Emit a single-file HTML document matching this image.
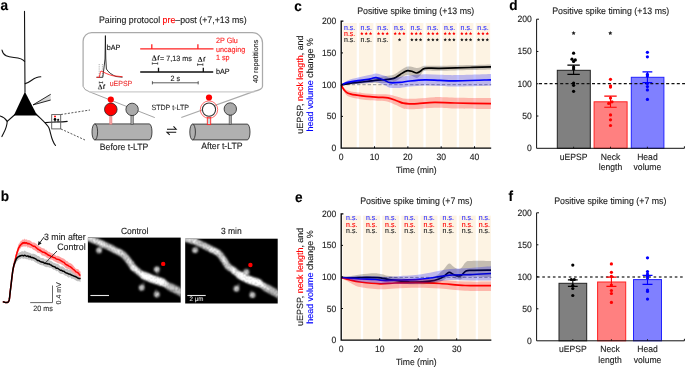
<!DOCTYPE html>
<html><head><meta charset="utf-8"><style>
html,body{margin:0;padding:0;background:#fff;}
svg{display:block;font-family:"Liberation Sans", sans-serif;will-change:transform;text-rendering:geometricPrecision;}
text{stroke:currentColor;stroke-width:0.12px;}
</style></head><body>
<svg width="685" height="368" viewBox="0 0 685 368">
<rect width="685" height="368" fill="#fff"/>
<text transform="translate(0.6,10.3) scale(1,1.06)" font-size="13.6" font-weight="bold" fill="#000" color="#000">a</text>
<text transform="translate(0.8,201.3) scale(1,1.06)" font-size="13.6" font-weight="bold" fill="#000" color="#000">b</text>
<text transform="translate(294.3,10.5) scale(1,1.06)" font-size="13.6" font-weight="bold" fill="#000" color="#000">c</text>
<text transform="translate(509.2,10.4) scale(1,1.06)" font-size="13.6" font-weight="bold" fill="#000" color="#000">d</text>
<text transform="translate(295,201.6) scale(1,1.06)" font-size="13.6" font-weight="bold" fill="#000" color="#000">e</text>
<text transform="translate(508.5,201.3) scale(1,1.06)" font-size="13.6" font-weight="bold" fill="#000" color="#000">f</text>
<g fill="none" stroke="#111" stroke-width="1.1" stroke-linecap="round">
<path d="M24.5,11.4 L25,92"/>
<path d="M2,50 C3,56 8,57 14,57.5 C19,58 23,59 24.6,61.5"/>
<path d="M25.2,83.6 C30,82.5 32,79 36,77.8 C38,77.1 39.5,76.8 40.8,76.7"/>
<path d="M15,114.5 L7.2,121.4 C5,118 2,116.5 0,116"/>
<path d="M7.2,121.4 C7,128 4,132 1.9,136.6"/>
<path d="M36,114 C42,120 47,124 49,128 C51,133 51,140 55.5,145.5"/>
<path d="M45.4,122.6 C52,121.5 60,122.5 67.2,121.4"/>
</g>
<path d="M24.9,91.8 L13.8,115.4 L37.2,115.4 Z" fill="#000"/>
<path d="M50.7,94.3 L33,104.9 L50.7,100" fill="#d8d8d8" stroke="#111" stroke-width="0.9"/>
<rect x="51.7" y="114.6" width="9" height="14.3" fill="none" stroke="#555" stroke-width="0.9"/>
<g stroke="#111" stroke-width="0.8"><line x1="55" y1="119.5" x2="55" y2="122.3"/><line x1="58" y1="119.8" x2="58" y2="122.3"/></g>
<circle cx="55" cy="119.4" r="1.35" fill="#000"/><circle cx="58.2" cy="119.8" r="1.05" fill="#111"/>
<circle cx="55" cy="116.6" r="1" fill="#f00"/>
<g stroke="#444" stroke-width="0.9" stroke-dasharray="2,1.5"><line x1="61" y1="114.5" x2="90" y2="110"/><line x1="61" y1="129" x2="85" y2="140"/></g>
<text transform="translate(99,22.8) scale(1,1.06)" font-size="8.8" fill="#222" color="#222">Pairing protocol <tspan fill="#f00" color="#f00" stroke="#f00">pre</tspan>–post (+7,+13 ms)</text>
<path d="M83.1,86.4 V41.2 A8.6,8.6 0 0 1 91.7,32.6 H252.3 A10.2,10.2 0 0 1 262.5,42.8 V86.3 Q262.5,89.8 254,91.4 L181.3,117.5" fill="none" stroke="#aaa" stroke-width="1.25"/>
<path d="M83.2,86.4 Q83.6,89.8 89.5,91.8 L154.8,117.6" fill="none" stroke="#999" stroke-width="0.9"/>
<line x1="89.3" y1="91.8" x2="254.5" y2="91.8" stroke="#ccc" stroke-width="1.3"/>
<g fill="none" stroke-linejoin="round">
<line x1="99.2" y1="64" x2="99.2" y2="77" stroke="#999" stroke-width="0.8" stroke-dasharray="1,0.8"/>
<line x1="102.4" y1="64" x2="102.4" y2="77" stroke="#999" stroke-width="0.8" stroke-dasharray="1,0.8"/>
<path d="M96.5,77.3 L102.8,77.3 L104.2,66 L105,59 L105.4,35.6 L105.8,59 L106.4,69 C108,72 112,75 116,76.5 L122.5,77.2" stroke="#111" stroke-width="0.85"/>
<path d="M96.5,77.3 L99.4,77.3 C100,74 100.5,71 101,71 C104,72.5 108,74.5 113,75.8 L122.5,76.7" stroke="#f22" stroke-width="0.9"/>
</g>
<path d="M99.3,82.5 H102.6 M99.3,81.5 V83.5 M102.6,81.5 V83.5" stroke="#222" stroke-width="0.7"/>
<path d="M98.20,89.00 L100.03,84.70 L101.86,89.00 Z" fill="none" stroke="#222" stroke-width="0.56" stroke-linejoin="miter"/><path d="M100.03,84.70 L101.86,89.00" stroke="#222" stroke-width="0.95"/><path d="M103.79,89.00 V85.90 Q104.01,84.70 105.30,84.92" fill="none" stroke="#222" stroke-width="1.03"/>
<text transform="translate(109.7,85.9) scale(1,1.06)" font-size="7" fill="#e33" color="#e33">uEPSP</text>
<text transform="translate(106.8,49.6) scale(1,1.06)" font-size="7.2" fill="#111" color="#111">bAP</text>
<g stroke-width="1.3"><path d="M140.2,48.8 H213.5 M151.8,48.8 V44.3 M197.9,48.8 V44.3" stroke="#f22" fill="none"/>
<path d="M140.2,72 H213.2 M158.5,72 V67.8 M203.3,72 V67.8" stroke="#111" fill="none"/></g>
<path d="M152.3,63.5 H157.7 M152.3,62.3 V64.7 M157.7,62.3 V64.7" stroke="#222" stroke-width="0.7"/>
<path d="M197.6,64.6 H202.9 M197.6,63.4 V65.8 M202.9,63.4 V65.8" stroke="#222" stroke-width="0.75"/>
<path d="M152.4,82.8 H198.2 M152.4,81.2 V84.4 M198.2,81.2 V84.4" stroke="#333" stroke-width="0.8"/>
<path d="M152.10,60.30 L154.10,55.60 L156.09,60.30 Z" fill="none" stroke="#222" stroke-width="0.61" stroke-linejoin="miter"/><path d="M154.10,55.60 L156.09,60.30" stroke="#222" stroke-width="1.03"/><path d="M158.21,60.30 V56.92 Q158.44,55.60 159.85,55.83" fill="none" stroke="#222" stroke-width="1.13"/>
<text transform="translate(160,60.8) scale(1,1.06)" font-size="7.2" fill="#222" color="#222">= 7,13 ms</text>
<path d="M198.10,61.50 L200.01,57.00 L201.92,61.50 Z" fill="none" stroke="#222" stroke-width="0.58" stroke-linejoin="miter"/><path d="M200.01,57.00 L201.92,61.50" stroke="#222" stroke-width="0.99"/><path d="M203.95,61.50 V58.26 Q204.17,57.00 205.52,57.23" fill="none" stroke="#222" stroke-width="1.08"/>
<text transform="translate(175.2,81) scale(1,1.06)" font-size="7.2" fill="#222" text-anchor="middle" color="#222">2 s</text>
<text transform="translate(216,43.2) scale(1,1.06)" font-size="7.2" fill="#f22" color="#f22">2P Glu</text>
<text transform="translate(216,51.8) scale(1,1.06)" font-size="7.2" fill="#f22" color="#f22">uncaging</text>
<text transform="translate(216,60.3) scale(1,1.06)" font-size="7.2" fill="#f22" color="#f22">1 sp</text>
<text transform="translate(216,74.4) scale(1,1.06)" font-size="7.2" fill="#111" color="#111">bAP</text>
<text transform="translate(257.7,61.3) rotate(-90)" font-size="7.2" fill="#222" text-anchor="middle" color="#222">40 repetitions</text>
<path d="M94.8,123.9 H149.2 A2.8,8.0 0 0 1 149.2,139.9 H94.8 Z" fill="#b0b0b0" stroke="#222" stroke-width="0.8"/><ellipse cx="94.8" cy="131.9" rx="2.8" ry="8.0" fill="#b0b0b0" stroke="#222" stroke-width="0.8"/>
<path d="M192.6,124.1 H247.2 A2.8,7.900000000000006 0 0 1 247.2,139.9 H192.6 Z" fill="#b0b0b0" stroke="#222" stroke-width="0.8"/><ellipse cx="192.6" cy="132.0" rx="2.8" ry="7.900000000000006" fill="#b0b0b0" stroke="#222" stroke-width="0.8"/>
<rect x="109.6" y="115" width="2.4" height="9.2" fill="#f4a0a0" stroke="#e07070" stroke-width="0.4"/>
<circle cx="110.8" cy="109.4" r="6.3" fill="#f00" stroke="#222" stroke-width="0.8"/>
<circle cx="110.8" cy="99.6" r="3.1" fill="#f00"/>
<rect x="130.9" y="115" width="2.4" height="9.2" fill="#aaa" stroke="#333" stroke-width="0.5"/>
<circle cx="132.1" cy="109.4" r="6.2" fill="#aaa" stroke="#222" stroke-width="0.8"/>
<rect x="207.3" y="117.2" width="3.4" height="7.4" fill="#cdd" stroke="#f22" stroke-width="0.9"/>
<circle cx="209" cy="109.6" r="8.7" fill="none" stroke="#f44" stroke-width="0.8"/>
<circle cx="209" cy="109.6" r="6.6" fill="#fff" stroke="#333" stroke-width="1.1"/>
<circle cx="209" cy="97.5" r="3.1" fill="#f00"/>
<rect x="229.1" y="115" width="2.4" height="9.2" fill="#aaa" stroke="#333" stroke-width="0.5"/>
<circle cx="230.3" cy="109" r="6.2" fill="#aaa" stroke="#222" stroke-width="0.8"/>
<text transform="translate(151.4,109.8) scale(1,1.06)" font-size="7.1" fill="#333" color="#333">STDP t-LTP</text>
<text transform="translate(99.8,149.7) scale(1,1.06)" font-size="8.7" fill="#222" color="#222">Before t-LTP</text>
<text transform="translate(201.2,149.3) scale(1,1.06)" font-size="8.7" fill="#222" color="#222">After t-LTP</text>
<path d="M167,129.2 H176.2 L173.5,126.3 M176.2,132.3 H167 L169.7,134.8" fill="none" stroke="#111" stroke-width="1.05"/>
<path d="M13.19,263.91 L13.48,262.91 L13.76,261.22 L14.03,260.70 L14.31,260.26 L14.59,259.33 L14.89,258.38 L15.20,257.16 L15.51,256.50 L15.80,255.61 L16.09,255.44 L16.39,254.49 L16.72,254.68 L17.08,253.25 L17.51,253.14 L18.00,253.19 L18.57,252.73 L19.21,252.70 L19.90,251.96 L20.63,252.11 L21.39,251.52 L22.16,250.90 L22.94,251.40 L23.70,251.55 L24.43,250.58 L25.15,250.70 L25.86,251.39 L26.58,251.78 L27.34,252.05 L28.15,252.37 L29.03,252.65 L30.00,252.63 L31.11,253.83 L32.36,253.82 L33.70,253.70 L35.08,254.18 L36.45,255.01 L37.76,256.05 L38.96,256.05 L40.00,257.30 L40.86,258.00 L41.60,258.02 L42.24,258.09 L42.81,258.07 L43.34,258.42 L43.87,258.03 L44.41,259.23 L45.00,259.44 L45.59,259.37 L46.13,259.68 L46.64,259.36 L47.17,258.98 L47.74,260.12 L48.38,259.73 L49.12,260.02 L50.00,260.84 L51.04,260.71 L52.21,261.64 L53.50,262.75 L54.85,262.89 L56.24,263.74 L57.64,263.69 L59.00,264.72 L60.30,266.44 L61.54,266.39 L62.77,266.59 L63.99,267.40 L65.19,268.64 L66.40,268.92 L67.62,268.96 L68.85,269.95 L70.10,269.56 L71.44,270.37 L72.90,271.87 L74.41,272.19 L75.91,272.61 L77.34,273.97 L78.62,274.12 L79.69,274.60 L80.50,275.07 L80.50,282.16 L79.69,281.56 L78.62,281.25 L77.34,281.27 L75.91,280.47 L74.41,279.43 L72.90,278.70 L71.44,278.71 L70.10,277.05 L68.85,277.77 L67.62,276.89 L66.40,275.81 L65.19,275.72 L63.99,274.69 L62.77,274.00 L61.54,273.88 L60.30,273.72 L59.00,272.64 L57.64,271.04 L56.24,271.21 L54.85,269.64 L53.50,269.65 L52.21,268.76 L51.04,267.85 L50.00,268.11 L49.12,267.56 L48.38,267.36 L47.74,266.99 L47.17,267.14 L46.64,267.15 L46.13,267.03 L45.59,266.93 L45.00,266.41 L44.41,266.50 L43.87,265.80 L43.34,265.71 L42.81,265.32 L42.24,265.52 L41.60,265.19 L40.86,264.94 L40.00,264.99 L38.96,264.01 L37.76,263.82 L36.45,262.69 L35.08,262.13 L33.70,261.01 L32.36,260.51 L31.11,260.80 L30.00,259.20 L29.03,260.39 L28.15,259.36 L27.34,259.27 L26.58,259.25 L25.86,259.07 L25.15,258.80 L24.43,258.43 L23.70,258.77 L22.94,259.08 L22.16,258.07 L21.39,258.37 L20.63,259.13 L19.90,258.57 L19.21,259.77 L18.57,259.68 L18.00,260.28 L17.51,261.24 L17.08,260.74 L16.72,262.20 L16.39,261.94 L16.09,262.53 L15.80,263.20 L15.51,264.44 L15.20,264.43 L14.89,265.51 L14.59,266.13 L14.31,267.27 L14.03,267.82 L13.76,268.88 L13.48,270.02 L13.19,271.37 Z" fill="#c2c2c2"/>
<path d="M13.16,264.89 L13.39,263.54 L13.60,262.70 L13.81,262.30 L14.02,260.86 L14.25,260.61 L14.50,259.58 L14.80,258.02 L15.13,256.93 L15.49,255.65 L15.87,253.85 L16.27,251.27 L16.68,251.05 L17.11,249.17 L17.55,248.18 L18.00,245.89 L18.47,244.50 L18.97,243.42 L19.49,243.59 L20.01,241.77 L20.54,241.39 L21.05,240.86 L21.54,240.81 L22.00,240.22 L22.42,239.94 L22.82,239.00 L23.20,239.70 L23.56,239.37 L23.92,239.88 L24.27,238.53 L24.63,238.82 L25.00,239.53 L25.35,239.56 L25.66,239.15 L25.95,240.08 L26.25,239.30 L26.58,239.68 L26.97,239.04 L27.43,240.47 L28.00,239.98 L28.70,240.35 L29.52,240.35 L30.42,240.71 L31.38,241.40 L32.35,242.49 L33.30,242.42 L34.19,242.47 L35.00,243.08 L35.72,243.59 L36.39,243.84 L37.02,244.50 L37.62,245.16 L38.21,245.49 L38.80,245.85 L39.39,246.33 L40.00,247.22 L40.62,246.55 L41.25,247.87 L41.88,247.76 L42.50,248.34 L43.12,248.26 L43.75,248.46 L44.38,248.57 L45.00,249.38 L45.59,250.04 L46.13,249.53 L46.64,250.20 L47.17,251.17 L47.74,250.70 L48.38,251.99 L49.12,251.77 L50.00,252.25 L51.04,253.19 L52.21,253.18 L53.50,254.02 L54.85,254.40 L56.24,256.00 L57.64,255.69 L59.00,256.37 L60.30,256.98 L61.54,257.69 L62.77,258.21 L63.99,258.71 L65.19,259.87 L66.40,260.91 L67.62,261.24 L68.85,262.81 L70.10,262.88 L71.44,263.81 L72.90,265.09 L74.41,266.97 L75.91,268.72 L77.34,269.08 L78.62,269.62 L79.69,271.30 L80.50,271.62 L80.50,279.00 L79.69,278.32 L78.62,276.40 L77.34,275.42 L75.91,275.42 L74.41,273.44 L72.90,272.74 L71.44,270.90 L70.10,269.77 L68.85,269.15 L67.62,268.81 L66.40,268.39 L65.19,267.58 L63.99,266.04 L62.77,265.28 L61.54,264.44 L60.30,263.77 L59.00,263.51 L57.64,263.09 L56.24,262.22 L54.85,261.45 L53.50,260.78 L52.21,259.86 L51.04,259.61 L50.00,259.49 L49.12,258.41 L48.38,258.83 L47.74,258.13 L47.17,257.74 L46.64,257.47 L46.13,257.14 L45.59,256.49 L45.00,256.13 L44.38,256.23 L43.75,255.83 L43.12,255.87 L42.50,255.55 L41.88,255.42 L41.25,254.47 L40.62,253.62 L40.00,253.59 L39.39,253.05 L38.80,252.77 L38.21,252.98 L37.62,252.79 L37.02,252.23 L36.39,251.32 L35.72,251.18 L35.00,250.36 L34.19,250.17 L33.30,249.66 L32.35,249.09 L31.38,247.99 L30.42,248.19 L29.52,247.63 L28.70,247.12 L28.00,247.80 L27.43,247.45 L26.97,246.00 L26.58,246.52 L26.25,246.39 L25.95,246.29 L25.66,247.06 L25.35,246.46 L25.00,246.23 L24.63,246.64 L24.27,246.16 L23.92,246.84 L23.56,246.55 L23.20,246.31 L22.82,246.43 L22.42,246.91 L22.00,246.71 L21.54,246.92 L21.05,247.48 L20.54,248.66 L20.01,248.59 L19.49,250.07 L18.97,250.39 L18.47,251.74 L18.00,252.99 L17.55,254.71 L17.11,255.86 L16.68,257.45 L16.27,258.21 L15.87,260.69 L15.49,262.33 L15.13,264.57 L14.80,265.24 L14.50,266.69 L14.25,268.03 L14.02,268.80 L13.81,268.84 L13.60,269.83 L13.39,270.50 L13.16,272.01 Z" fill="#ffa0a0"/>
<path d="M2.80,301.80 L3.27,301.86 L3.91,302.03 L4.69,302.24 L5.53,302.42 L6.39,302.51 L7.21,302.45 L7.93,302.17 L8.50,301.60 L8.92,300.76 L9.23,299.72 L9.46,298.49 L9.65,297.09 L9.81,295.53 L9.97,293.84 L10.16,292.02 L10.40,290.10 L10.69,287.93 L11.00,285.42 L11.32,282.70 L11.65,279.89 L11.98,277.10 L12.30,274.46 L12.61,272.09 L12.90,270.10 L13.16,268.55 L13.39,267.34 L13.60,266.38 L13.81,265.58 L14.02,264.84 L14.25,264.06 L14.50,263.14 L14.80,262.00 L15.13,260.60 L15.49,259.02 L15.87,257.34 L16.27,255.20 L16.68,254.06 L17.11,252.38 L17.55,251.21 L18.00,249.79 L18.47,248.24 L18.97,247.38 L19.49,246.81 L20.01,245.50 L20.54,245.26 L21.05,244.44 L21.54,243.90 L22.00,243.40 L22.42,243.68 L22.82,242.85 L23.20,242.78 L23.56,242.80 L23.92,243.18 L24.27,242.44 L24.63,242.77 L25.00,242.84 L25.35,243.13 L25.66,243.08 L25.95,243.14 L26.25,242.67 L26.58,242.88 L26.97,242.96 L27.43,243.61 L28.00,243.91 L28.70,243.49 L29.52,243.89 L30.42,244.37 L31.38,244.85 L32.35,245.57 L33.30,246.15 L34.19,246.34 L35.00,246.55 L35.72,247.35 L36.39,247.74 L37.02,248.34 L37.62,249.11 L38.21,249.29 L38.80,249.54 L39.39,250.02 L40.00,250.46 L40.62,250.26 L41.25,251.37 L41.88,251.59 L42.50,251.99 L43.12,252.25 L43.75,252.21 L44.38,252.55 L45.00,252.64 L45.59,253.49 L46.13,253.35 L46.64,253.73 L47.17,254.24 L47.74,254.59 L48.38,255.17 L49.12,255.34 L50.00,255.75 L51.04,256.36 L52.21,256.79 L53.50,257.51 L54.85,257.72 L56.24,259.01 L57.64,259.35 L59.00,259.53 L60.30,260.28 L61.54,261.06 L62.77,261.81 L63.99,262.36 L65.19,263.81 L66.40,264.78 L67.62,265.17 L68.85,266.07 L70.10,266.63 L71.44,267.65 L72.90,269.00 L74.41,270.13 L75.91,271.85 L77.34,272.41 L78.62,273.34 L79.69,275.05 L80.50,275.33" fill="none" stroke="#f00" stroke-width="1.5" stroke-linejoin="round"/>
<path d="M2.80,301.80 L3.27,301.86 L3.91,302.03 L4.69,302.24 L5.53,302.42 L6.39,302.51 L7.21,302.45 L7.93,302.17 L8.50,301.60 L8.92,300.76 L9.23,299.72 L9.46,298.49 L9.65,297.09 L9.81,295.53 L9.97,293.84 L10.16,292.02 L10.40,290.10 L10.69,287.93 L10.99,285.43 L11.30,282.72 L11.62,279.91 L11.95,277.13 L12.28,274.49 L12.59,272.11 L12.90,270.10 L13.19,268.46 L13.48,267.07 L13.76,265.89 L14.03,264.88 L14.31,263.98 L14.59,263.17 L14.89,262.39 L15.20,261.60 L15.51,260.83 L15.80,260.15 L16.09,259.37 L16.39,258.65 L16.72,258.60 L17.08,257.62 L17.51,257.62 L18.00,257.08 L18.57,256.45 L19.21,256.54 L19.90,255.86 L20.63,255.99 L21.39,255.48 L22.16,255.37 L22.94,255.58 L23.70,255.89 L24.43,255.25 L25.15,255.38 L25.86,255.81 L26.58,256.22 L27.34,256.05 L28.15,256.11 L29.03,256.90 L30.00,256.39 L31.11,257.54 L32.36,257.56 L33.70,258.04 L35.08,258.66 L36.45,259.48 L37.76,260.56 L38.96,260.55 L40.00,261.37 L40.86,261.80 L41.60,261.88 L42.24,262.31 L42.81,262.11 L43.34,262.32 L43.87,262.65 L44.41,263.27 L45.00,263.23 L45.59,263.29 L46.13,263.63 L46.64,263.58 L47.17,263.50 L47.74,264.04 L48.38,264.10 L49.12,263.92 L50.00,264.57 L51.04,265.01 L52.21,265.94 L53.50,266.51 L54.85,266.87 L56.24,268.27 L57.64,268.26 L59.00,269.27 L60.30,270.23 L61.54,270.28 L62.77,271.14 L63.99,271.28 L65.19,272.36 L66.40,272.96 L67.62,273.30 L68.85,274.10 L70.10,274.13 L71.44,275.06 L72.90,275.60 L74.41,276.24 L75.91,276.78 L77.34,277.74 L78.62,278.39 L79.69,278.43 L80.50,278.95" fill="none" stroke="#000" stroke-width="1.5" stroke-linejoin="round"/>
<text transform="translate(44,239.5) scale(1,1.06)" font-size="8.8" fill="#222" color="#222">3 min after</text>
<text transform="translate(85.6,249.6) scale(1,1.06)" font-size="8.8" fill="#222" text-anchor="end" color="#222">Control</text>
<path d="M44.2,236.8 L39.5,243.2" stroke="#111" stroke-width="0.9"/><path d="M37.8,245.4 L38.6,240.9 L41.6,243.4 Z" fill="#111"/>
<path d="M57,251 L44,264.3" stroke="#111" stroke-width="0.8"/>
<path d="M30.2,302.6 H52.5 V285.5" fill="none" stroke="#666" stroke-width="1"/>
<text transform="translate(43,310.8) scale(1,1.06)" font-size="7.2" fill="#333" text-anchor="middle" color="#333">20 ms</text>
<text transform="translate(61.3,293.3) rotate(-90)" font-size="7" fill="#333" text-anchor="middle" color="#333">0.4 mV</text>
<rect x="87.9" y="237.6" width="92.8" height="65" fill="#000"/><svg x="87.9" y="237.6" width="92.8" height="65" viewBox="0 0 92.8 65" overflow="hidden"><defs><filter id="bl1" x="-20%" y="-20%" width="140%" height="140%"><feGaussianBlur in="SourceGraphic" stdDeviation="0.9" result="b"/><feTurbulence type="fractalNoise" baseFrequency="0.5" numOctaves="2" seed="1" result="n"/><feColorMatrix in="n" type="matrix" values="1 0 0 0 0  1 0 0 0 0  1 0 0 0 0  0 0 0 0 1" result="ng"/><feComposite in="b" in2="ng" operator="arithmetic" k1="1.1" k2="0.5" k3="0" k4="0" result="m"/><feGaussianBlur in="m" stdDeviation="0.3"/></filter></defs><g filter="url(#bl1)"><path d="M-3.00,-2.50 C-2.17,-1.95 0.18,-0.20 2.00,0.80 C3.82,1.80 5.28,2.33 7.90,3.50 C10.52,4.67 14.45,6.27 17.70,7.80 C20.95,9.33 24.68,11.33 27.40,12.70 C30.12,14.07 32.00,14.55 34.00,16.00 C36.00,17.45 37.60,19.23 39.40,21.40 C41.20,23.57 43.20,27.07 44.80,29.00 C46.40,30.93 47.13,31.52 49.00,33.00 C50.87,34.48 53.48,36.53 56.00,37.90 C58.52,39.27 61.05,40.08 64.10,41.20 C67.15,42.32 71.25,43.23 74.30,44.60 C77.35,45.97 79.23,47.70 82.40,49.40 C85.57,51.10 91.03,53.62 93.30,54.80 C95.57,55.98 95.55,56.22 96.00,56.50" fill="none" stroke="#808080" stroke-width="6" stroke-linecap="round"/><path d="M-3.00,-2.50 C-2.17,-1.95 0.18,-0.20 2.00,0.80 C3.82,1.80 5.28,2.33 7.90,3.50 C10.52,4.67 14.45,6.27 17.70,7.80 C20.95,9.33 24.68,11.33 27.40,12.70 C30.12,14.07 32.00,14.55 34.00,16.00 C36.00,17.45 37.60,19.23 39.40,21.40 C41.20,23.57 43.20,27.07 44.80,29.00 C46.40,30.93 47.13,31.52 49.00,33.00 C50.87,34.48 53.48,36.53 56.00,37.90 C58.52,39.27 61.05,40.08 64.10,41.20 C67.15,42.32 71.25,43.23 74.30,44.60 C77.35,45.97 79.23,47.70 82.40,49.40 C85.57,51.10 91.03,53.62 93.30,54.80 C95.57,55.98 95.55,56.22 96.00,56.50" fill="none" stroke="#d8d8d8" stroke-width="4" stroke-linecap="round"/><path d="M56.00,37.90 C57.35,38.45 61.05,40.08 64.10,41.20 C67.15,42.32 72.60,44.03 74.30,44.60" fill="none" stroke="#f8f8f8" stroke-width="7" stroke-linecap="round"/><path d="M82.40,49.40 C84.22,50.30 91.03,53.62 93.30,54.80 C95.57,55.98 95.55,56.22 96.00,56.50" fill="none" stroke="#999" stroke-width="7.5" stroke-linecap="round" opacity="0.7"/><circle cx="1.37" cy="-0.44" r="1.81" fill="rgb(179,179,179)" opacity="0.49"/><circle cx="0.21" cy="1.56" r="1.74" fill="rgb(211,211,211)" opacity="0.79"/><circle cx="3.09" cy="-0.10" r="1.59" fill="rgb(254,254,254)" opacity="0.63"/><circle cx="2.90" cy="2.48" r="0.92" fill="rgb(225,225,225)" opacity="0.63"/><circle cx="2.51" cy="1.49" r="0.94" fill="rgb(248,248,248)" opacity="0.84"/><circle cx="4.20" cy="1.11" r="1.73" fill="rgb(204,204,204)" opacity="0.56"/><circle cx="4.20" cy="1.86" r="1.61" fill="rgb(197,197,197)" opacity="0.75"/><circle cx="5.05" cy="3.00" r="1.49" fill="rgb(246,246,246)" opacity="0.82"/><circle cx="6.59" cy="3.24" r="1.70" fill="rgb(226,226,226)" opacity="0.43"/><circle cx="7.92" cy="2.74" r="1.42" fill="rgb(174,174,174)" opacity="0.61"/><circle cx="8.62" cy="2.86" r="1.81" fill="rgb(233,233,233)" opacity="0.53"/><circle cx="9.65" cy="3.05" r="1.31" fill="rgb(210,210,210)" opacity="0.68"/><circle cx="10.67" cy="4.33" r="1.71" fill="rgb(200,200,200)" opacity="0.49"/><circle cx="11.42" cy="4.08" r="1.35" fill="rgb(249,249,249)" opacity="0.83"/><circle cx="13.78" cy="5.00" r="1.89" fill="rgb(236,236,236)" opacity="0.63"/><circle cx="14.95" cy="5.30" r="1.46" fill="rgb(225,225,225)" opacity="0.46"/><circle cx="14.10" cy="7.14" r="1.22" fill="rgb(247,247,247)" opacity="0.67"/><circle cx="15.44" cy="8.08" r="1.28" fill="rgb(219,219,219)" opacity="0.86"/><circle cx="18.19" cy="8.65" r="1.50" fill="rgb(210,210,210)" opacity="0.70"/><circle cx="19.16" cy="7.99" r="1.78" fill="rgb(186,186,186)" opacity="0.42"/><circle cx="20.28" cy="9.74" r="0.95" fill="rgb(224,224,224)" opacity="0.65"/><circle cx="22.09" cy="10.10" r="1.66" fill="rgb(238,238,238)" opacity="0.53"/><circle cx="23.69" cy="8.96" r="1.57" fill="rgb(212,212,212)" opacity="0.89"/><circle cx="23.29" cy="11.85" r="1.60" fill="rgb(186,186,186)" opacity="0.57"/><circle cx="24.56" cy="10.66" r="1.62" fill="rgb(207,207,207)" opacity="0.72"/><circle cx="27.67" cy="12.56" r="1.65" fill="rgb(252,252,252)" opacity="0.78"/><circle cx="27.28" cy="12.33" r="1.27" fill="rgb(232,232,232)" opacity="0.68"/><circle cx="27.38" cy="12.66" r="1.48" fill="rgb(237,237,237)" opacity="0.73"/><circle cx="28.57" cy="13.90" r="1.42" fill="rgb(207,207,207)" opacity="0.59"/><circle cx="31.22" cy="13.93" r="1.72" fill="rgb(182,182,182)" opacity="0.42"/><circle cx="31.68" cy="13.36" r="1.69" fill="rgb(229,229,229)" opacity="0.80"/><circle cx="30.57" cy="15.92" r="0.91" fill="rgb(178,178,178)" opacity="0.82"/><circle cx="31.78" cy="15.01" r="1.81" fill="rgb(246,246,246)" opacity="0.80"/><circle cx="33.44" cy="14.76" r="1.35" fill="rgb(188,188,188)" opacity="0.67"/><circle cx="35.23" cy="16.28" r="1.12" fill="rgb(230,230,230)" opacity="0.66"/><circle cx="34.78" cy="17.90" r="1.22" fill="rgb(203,203,203)" opacity="0.41"/><circle cx="36.04" cy="17.04" r="1.64" fill="rgb(242,242,242)" opacity="0.40"/><circle cx="37.13" cy="18.71" r="1.44" fill="rgb(241,241,241)" opacity="0.56"/><circle cx="37.11" cy="18.23" r="1.13" fill="rgb(178,178,178)" opacity="0.76"/><circle cx="36.17" cy="17.75" r="1.71" fill="rgb(189,189,189)" opacity="0.72"/><circle cx="38.28" cy="18.81" r="1.73" fill="rgb(181,181,181)" opacity="0.71"/><circle cx="38.76" cy="21.86" r="1.28" fill="rgb(211,211,211)" opacity="0.68"/><circle cx="39.16" cy="21.74" r="0.96" fill="rgb(194,194,194)" opacity="0.79"/><circle cx="39.41" cy="22.22" r="1.72" fill="rgb(179,179,179)" opacity="0.59"/><circle cx="40.83" cy="23.75" r="1.83" fill="rgb(248,248,248)" opacity="0.51"/><circle cx="42.61" cy="23.48" r="1.17" fill="rgb(203,203,203)" opacity="0.64"/><circle cx="42.06" cy="23.99" r="1.29" fill="rgb(176,176,176)" opacity="0.51"/><circle cx="44.15" cy="25.62" r="1.85" fill="rgb(211,211,211)" opacity="0.75"/><circle cx="43.80" cy="26.56" r="1.78" fill="rgb(189,189,189)" opacity="0.68"/><circle cx="45.18" cy="28.09" r="1.24" fill="rgb(174,174,174)" opacity="0.86"/><circle cx="45.26" cy="29.00" r="1.36" fill="rgb(215,215,215)" opacity="0.54"/><circle cx="44.30" cy="30.77" r="1.69" fill="rgb(255,255,255)" opacity="0.81"/><circle cx="45.25" cy="29.65" r="1.62" fill="rgb(255,255,255)" opacity="0.75"/><circle cx="46.91" cy="29.67" r="1.32" fill="rgb(255,255,255)" opacity="0.89"/><circle cx="45.50" cy="30.08" r="1.73" fill="rgb(255,255,255)" opacity="0.51"/><circle cx="45.91" cy="31.45" r="1.00" fill="rgb(255,255,255)" opacity="0.41"/><circle cx="46.96" cy="31.09" r="1.61" fill="rgb(255,255,255)" opacity="0.42"/><circle cx="48.44" cy="32.07" r="1.40" fill="rgb(255,255,255)" opacity="0.73"/><circle cx="49.78" cy="32.24" r="1.37" fill="rgb(255,255,255)" opacity="0.73"/><circle cx="49.59" cy="32.45" r="0.90" fill="rgb(255,255,255)" opacity="0.46"/><circle cx="50.89" cy="34.21" r="1.06" fill="rgb(255,255,255)" opacity="0.69"/><circle cx="50.03" cy="34.24" r="0.97" fill="rgb(255,255,255)" opacity="0.42"/><circle cx="50.86" cy="36.32" r="0.99" fill="rgb(255,255,255)" opacity="0.57"/><circle cx="52.38" cy="35.47" r="1.17" fill="rgb(255,255,255)" opacity="0.86"/><circle cx="52.76" cy="36.91" r="1.34" fill="rgb(255,255,255)" opacity="0.71"/><circle cx="56.29" cy="38.25" r="1.51" fill="rgb(255,255,255)" opacity="0.68"/><circle cx="55.80" cy="37.15" r="1.76" fill="rgb(255,255,255)" opacity="0.81"/><circle cx="55.74" cy="37.91" r="1.48" fill="rgb(255,255,255)" opacity="0.51"/><circle cx="59.22" cy="39.91" r="1.22" fill="rgb(255,255,255)" opacity="0.76"/><circle cx="59.09" cy="38.84" r="1.63" fill="rgb(255,255,255)" opacity="0.61"/><circle cx="59.85" cy="40.57" r="1.42" fill="rgb(255,255,255)" opacity="0.47"/><circle cx="61.58" cy="40.80" r="1.62" fill="rgb(255,255,255)" opacity="0.47"/><circle cx="62.68" cy="40.46" r="0.95" fill="rgb(255,255,255)" opacity="0.85"/><circle cx="61.91" cy="41.99" r="1.49" fill="rgb(255,255,255)" opacity="0.69"/><circle cx="63.28" cy="41.24" r="1.01" fill="rgb(255,255,255)" opacity="0.59"/><circle cx="65.62" cy="40.85" r="1.85" fill="rgb(255,255,255)" opacity="0.84"/><circle cx="65.46" cy="40.70" r="0.95" fill="rgb(255,255,255)" opacity="0.70"/><circle cx="66.60" cy="43.53" r="0.90" fill="rgb(255,255,255)" opacity="0.62"/><circle cx="69.30" cy="42.22" r="1.37" fill="rgb(255,255,255)" opacity="0.86"/><circle cx="71.15" cy="43.83" r="1.02" fill="rgb(255,255,255)" opacity="0.65"/><circle cx="70.51" cy="43.49" r="1.30" fill="rgb(255,255,255)" opacity="0.44"/><circle cx="73.36" cy="43.94" r="1.18" fill="rgb(255,255,255)" opacity="0.61"/><circle cx="73.52" cy="43.24" r="1.79" fill="rgb(255,255,255)" opacity="0.64"/><circle cx="74.82" cy="45.43" r="0.95" fill="rgb(255,255,255)" opacity="0.64"/><circle cx="76.43" cy="45.80" r="1.00" fill="rgb(255,255,255)" opacity="0.81"/><circle cx="77.63" cy="46.76" r="1.15" fill="rgb(255,255,255)" opacity="0.87"/><circle cx="78.18" cy="45.70" r="1.59" fill="rgb(255,255,255)" opacity="0.41"/><circle cx="78.40" cy="48.58" r="1.45" fill="rgb(255,255,255)" opacity="0.77"/><circle cx="79.97" cy="49.08" r="0.95" fill="rgb(191,191,191)" opacity="0.52"/><circle cx="80.12" cy="49.75" r="1.11" fill="rgb(220,220,220)" opacity="0.56"/><circle cx="82.97" cy="49.68" r="1.29" fill="rgb(253,253,253)" opacity="0.58"/><circle cx="84.05" cy="50.53" r="1.84" fill="rgb(209,209,209)" opacity="0.67"/><circle cx="85.62" cy="50.16" r="1.57" fill="rgb(221,221,221)" opacity="0.56"/><circle cx="86.93" cy="51.28" r="0.95" fill="rgb(188,188,188)" opacity="0.81"/><circle cx="88.76" cy="51.35" r="1.39" fill="rgb(201,201,201)" opacity="0.77"/><circle cx="89.03" cy="53.54" r="1.49" fill="rgb(192,192,192)" opacity="0.60"/><circle cx="92.42" cy="54.73" r="0.96" fill="rgb(227,227,227)" opacity="0.70"/><circle cx="93.23" cy="54.52" r="1.44" fill="rgb(197,197,197)" opacity="0.44"/><line x1="11.1" y1="12.7" x2="13" y2="9" stroke="#555" stroke-width="1.4"/><circle cx="11.1" cy="12.7" r="2.8" fill="#999"/><circle cx="11.1" cy="12.7" r="1.6" fill="#ddd"/><line x1="68.9" y1="31.7" x2="70" y2="37" stroke="#555" stroke-width="1.4"/><circle cx="68.9" cy="31.7" r="2.8" fill="#999"/><circle cx="68.9" cy="31.7" r="1.6" fill="#ddd"/><line x1="53.7" y1="50.1" x2="56" y2="45" stroke="#555" stroke-width="1.4"/><circle cx="53.7" cy="50.1" r="2.8" fill="#999"/><circle cx="53.7" cy="50.1" r="1.6" fill="#ddd"/><line x1="68.9" y1="56.8" x2="68" y2="52" stroke="#555" stroke-width="1.4"/><circle cx="68.9" cy="56.8" r="2.8" fill="#999"/><circle cx="68.9" cy="56.8" r="1.6" fill="#ddd"/></g></svg><circle cx="163.2" cy="263.9" r="2.2" fill="#f00"/><line x1="90.4" y1="295.5" x2="109" y2="295.5" stroke="#e8e8e8" stroke-width="1.1"/><text transform="translate(134.6,234) scale(1,1.06)" font-size="8.5" fill="#222" text-anchor="middle" color="#222">Control</text>
<rect x="185.2" y="238.7" width="92.5" height="64.8" fill="#000"/><svg x="185.2" y="238.7" width="92.5" height="64.8" viewBox="0 0 92.5 64.8" overflow="hidden"><defs><filter id="bl2" x="-20%" y="-20%" width="140%" height="140%"><feGaussianBlur in="SourceGraphic" stdDeviation="0.9" result="b"/><feTurbulence type="fractalNoise" baseFrequency="0.5" numOctaves="2" seed="2" result="n"/><feColorMatrix in="n" type="matrix" values="1 0 0 0 0  1 0 0 0 0  1 0 0 0 0  0 0 0 0 1" result="ng"/><feComposite in="b" in2="ng" operator="arithmetic" k1="1.1" k2="0.5" k3="0" k4="0" result="m"/><feGaussianBlur in="m" stdDeviation="0.3"/></filter></defs><g filter="url(#bl2)"><path d="M-3.00,-2.50 C-2.17,-1.98 -0.13,-0.28 2.00,0.60 C4.13,1.48 6.88,1.70 9.80,2.80 C12.72,3.90 16.25,5.65 19.50,7.20 C22.75,8.75 26.93,10.83 29.30,12.10 C31.67,13.37 32.25,13.45 33.70,14.80 C35.15,16.15 36.47,18.03 38.00,20.20 C39.53,22.37 41.20,25.97 42.90,27.80 C44.60,29.63 46.18,29.72 48.20,31.20 C50.22,32.68 52.50,35.12 55.00,36.70 C57.50,38.28 60.15,39.47 63.20,40.70 C66.25,41.93 70.37,42.73 73.30,44.10 C76.23,45.47 77.85,47.20 80.80,48.90 C83.75,50.60 88.63,53.03 91.00,54.30 C93.37,55.57 94.33,56.13 95.00,56.50" fill="none" stroke="#808080" stroke-width="6" stroke-linecap="round"/><path d="M-3.00,-2.50 C-2.17,-1.98 -0.13,-0.28 2.00,0.60 C4.13,1.48 6.88,1.70 9.80,2.80 C12.72,3.90 16.25,5.65 19.50,7.20 C22.75,8.75 26.93,10.83 29.30,12.10 C31.67,13.37 32.25,13.45 33.70,14.80 C35.15,16.15 36.47,18.03 38.00,20.20 C39.53,22.37 41.20,25.97 42.90,27.80 C44.60,29.63 46.18,29.72 48.20,31.20 C50.22,32.68 52.50,35.12 55.00,36.70 C57.50,38.28 60.15,39.47 63.20,40.70 C66.25,41.93 70.37,42.73 73.30,44.10 C76.23,45.47 77.85,47.20 80.80,48.90 C83.75,50.60 88.63,53.03 91.00,54.30 C93.37,55.57 94.33,56.13 95.00,56.50" fill="none" stroke="#d8d8d8" stroke-width="4" stroke-linecap="round"/><path d="M55.00,36.70 C56.37,37.37 60.15,39.47 63.20,40.70 C66.25,41.93 71.62,43.53 73.30,44.10" fill="none" stroke="#f8f8f8" stroke-width="7" stroke-linecap="round"/><path d="M80.80,48.90 C82.50,49.80 88.63,53.03 91.00,54.30 C93.37,55.57 94.33,56.13 95.00,56.50" fill="none" stroke="#999" stroke-width="7.5" stroke-linecap="round" opacity="0.7"/><circle cx="0.79" cy="0.65" r="0.93" fill="rgb(179,179,179)" opacity="0.84"/><circle cx="2.41" cy="-0.67" r="1.24" fill="rgb(214,214,214)" opacity="0.55"/><circle cx="1.40" cy="0.80" r="1.47" fill="rgb(184,184,184)" opacity="0.47"/><circle cx="2.52" cy="0.29" r="1.18" fill="rgb(228,228,228)" opacity="0.89"/><circle cx="3.49" cy="2.19" r="1.16" fill="rgb(180,180,180)" opacity="0.69"/><circle cx="4.95" cy="1.19" r="1.70" fill="rgb(223,223,223)" opacity="0.87"/><circle cx="4.75" cy="0.98" r="1.33" fill="rgb(223,223,223)" opacity="0.65"/><circle cx="7.71" cy="0.89" r="1.68" fill="rgb(214,214,214)" opacity="0.41"/><circle cx="6.66" cy="1.85" r="1.62" fill="rgb(193,193,193)" opacity="0.90"/><circle cx="9.63" cy="1.41" r="1.84" fill="rgb(246,246,246)" opacity="0.76"/><circle cx="8.69" cy="2.62" r="1.43" fill="rgb(237,237,237)" opacity="0.86"/><circle cx="10.48" cy="2.76" r="1.26" fill="rgb(241,241,241)" opacity="0.72"/><circle cx="12.93" cy="4.08" r="1.32" fill="rgb(236,236,236)" opacity="0.65"/><circle cx="12.90" cy="3.55" r="1.75" fill="rgb(179,179,179)" opacity="0.81"/><circle cx="14.75" cy="4.74" r="1.67" fill="rgb(194,194,194)" opacity="0.48"/><circle cx="16.85" cy="5.42" r="1.31" fill="rgb(228,228,228)" opacity="0.71"/><circle cx="16.55" cy="5.74" r="1.66" fill="rgb(181,181,181)" opacity="0.58"/><circle cx="17.15" cy="5.64" r="1.54" fill="rgb(175,175,175)" opacity="0.72"/><circle cx="18.97" cy="6.50" r="1.05" fill="rgb(182,182,182)" opacity="0.63"/><circle cx="20.30" cy="6.71" r="1.58" fill="rgb(211,211,211)" opacity="0.81"/><circle cx="22.19" cy="7.57" r="1.33" fill="rgb(219,219,219)" opacity="0.58"/><circle cx="23.96" cy="9.47" r="1.82" fill="rgb(208,208,208)" opacity="0.75"/><circle cx="24.61" cy="9.13" r="1.29" fill="rgb(192,192,192)" opacity="0.64"/><circle cx="26.01" cy="10.68" r="1.59" fill="rgb(244,244,244)" opacity="0.89"/><circle cx="26.26" cy="12.37" r="1.46" fill="rgb(254,254,254)" opacity="0.88"/><circle cx="28.32" cy="12.83" r="0.94" fill="rgb(174,174,174)" opacity="0.65"/><circle cx="30.57" cy="11.41" r="1.46" fill="rgb(220,220,220)" opacity="0.55"/><circle cx="29.54" cy="11.43" r="1.85" fill="rgb(247,247,247)" opacity="0.79"/><circle cx="30.22" cy="12.59" r="1.14" fill="rgb(180,180,180)" opacity="0.62"/><circle cx="30.54" cy="14.07" r="1.50" fill="rgb(241,241,241)" opacity="0.82"/><circle cx="32.60" cy="12.64" r="1.47" fill="rgb(209,209,209)" opacity="0.61"/><circle cx="33.02" cy="12.38" r="1.37" fill="rgb(230,230,230)" opacity="0.69"/><circle cx="33.11" cy="13.96" r="1.63" fill="rgb(207,207,207)" opacity="0.77"/><circle cx="34.15" cy="14.29" r="0.91" fill="rgb(226,226,226)" opacity="0.43"/><circle cx="34.15" cy="15.59" r="1.30" fill="rgb(174,174,174)" opacity="0.78"/><circle cx="33.41" cy="15.60" r="0.95" fill="rgb(253,253,253)" opacity="0.65"/><circle cx="34.83" cy="17.05" r="1.08" fill="rgb(182,182,182)" opacity="0.79"/><circle cx="35.89" cy="15.59" r="1.00" fill="rgb(175,175,175)" opacity="0.59"/><circle cx="35.72" cy="17.84" r="1.75" fill="rgb(239,239,239)" opacity="0.59"/><circle cx="35.74" cy="18.48" r="1.66" fill="rgb(196,196,196)" opacity="0.85"/><circle cx="35.68" cy="17.85" r="1.08" fill="rgb(170,170,170)" opacity="0.72"/><circle cx="36.58" cy="19.87" r="1.51" fill="rgb(238,238,238)" opacity="0.80"/><circle cx="36.75" cy="19.98" r="1.40" fill="rgb(170,170,170)" opacity="0.70"/><circle cx="37.66" cy="21.59" r="1.38" fill="rgb(245,245,245)" opacity="0.85"/><circle cx="39.13" cy="20.81" r="1.70" fill="rgb(242,242,242)" opacity="0.55"/><circle cx="38.61" cy="22.69" r="1.13" fill="rgb(177,177,177)" opacity="0.80"/><circle cx="39.53" cy="24.61" r="1.36" fill="rgb(251,251,251)" opacity="0.46"/><circle cx="42.34" cy="25.51" r="1.61" fill="rgb(171,171,171)" opacity="0.81"/><circle cx="41.87" cy="25.40" r="1.66" fill="rgb(197,197,197)" opacity="0.45"/><circle cx="43.45" cy="28.03" r="1.28" fill="rgb(222,222,222)" opacity="0.85"/><circle cx="41.80" cy="28.52" r="1.61" fill="rgb(193,193,193)" opacity="0.63"/><circle cx="44.08" cy="27.04" r="1.55" fill="rgb(213,213,213)" opacity="0.82"/><circle cx="44.90" cy="28.33" r="1.82" fill="rgb(170,170,170)" opacity="0.88"/><circle cx="44.67" cy="29.34" r="1.79" fill="rgb(207,207,207)" opacity="0.73"/><circle cx="44.96" cy="30.33" r="1.18" fill="rgb(255,255,255)" opacity="0.43"/><circle cx="46.06" cy="30.15" r="1.04" fill="rgb(255,255,255)" opacity="0.79"/><circle cx="48.03" cy="29.57" r="1.18" fill="rgb(255,255,255)" opacity="0.84"/><circle cx="46.62" cy="29.89" r="1.01" fill="rgb(255,255,255)" opacity="0.84"/><circle cx="47.28" cy="30.79" r="1.65" fill="rgb(255,255,255)" opacity="0.80"/><circle cx="48.53" cy="32.67" r="1.18" fill="rgb(255,255,255)" opacity="0.46"/><circle cx="48.37" cy="33.54" r="1.72" fill="rgb(255,255,255)" opacity="0.84"/><circle cx="51.61" cy="33.74" r="0.93" fill="rgb(255,255,255)" opacity="0.64"/><circle cx="51.34" cy="35.23" r="1.34" fill="rgb(255,255,255)" opacity="0.46"/><circle cx="51.65" cy="35.14" r="1.69" fill="rgb(255,255,255)" opacity="0.80"/><circle cx="53.27" cy="36.24" r="1.30" fill="rgb(255,255,255)" opacity="0.51"/><circle cx="54.70" cy="36.24" r="1.90" fill="rgb(255,255,255)" opacity="0.50"/><circle cx="54.91" cy="36.34" r="1.24" fill="rgb(255,255,255)" opacity="0.87"/><circle cx="56.45" cy="36.26" r="1.87" fill="rgb(255,255,255)" opacity="0.58"/><circle cx="56.04" cy="36.79" r="1.35" fill="rgb(255,255,255)" opacity="0.89"/><circle cx="59.16" cy="38.82" r="1.30" fill="rgb(255,255,255)" opacity="0.87"/><circle cx="58.63" cy="38.88" r="1.67" fill="rgb(255,255,255)" opacity="0.51"/><circle cx="60.49" cy="40.55" r="0.90" fill="rgb(255,255,255)" opacity="0.41"/><circle cx="60.67" cy="39.78" r="1.29" fill="rgb(255,255,255)" opacity="0.83"/><circle cx="61.14" cy="39.59" r="1.52" fill="rgb(255,255,255)" opacity="0.42"/><circle cx="62.94" cy="40.37" r="1.01" fill="rgb(255,255,255)" opacity="0.69"/><circle cx="63.73" cy="41.05" r="1.31" fill="rgb(255,255,255)" opacity="0.75"/><circle cx="66.04" cy="40.88" r="1.52" fill="rgb(255,255,255)" opacity="0.69"/><circle cx="67.61" cy="42.33" r="1.82" fill="rgb(255,255,255)" opacity="0.45"/><circle cx="67.13" cy="42.71" r="1.05" fill="rgb(255,255,255)" opacity="0.71"/><circle cx="70.39" cy="42.52" r="1.80" fill="rgb(255,255,255)" opacity="0.75"/><circle cx="70.56" cy="44.20" r="1.63" fill="rgb(255,255,255)" opacity="0.67"/><circle cx="72.42" cy="42.30" r="1.43" fill="rgb(255,255,255)" opacity="0.80"/><circle cx="74.51" cy="43.70" r="0.91" fill="rgb(255,255,255)" opacity="0.46"/><circle cx="74.98" cy="44.71" r="1.13" fill="rgb(255,255,255)" opacity="0.53"/><circle cx="74.66" cy="45.16" r="1.40" fill="rgb(255,255,255)" opacity="0.76"/><circle cx="77.23" cy="45.41" r="1.22" fill="rgb(255,255,255)" opacity="0.81"/><circle cx="78.36" cy="46.74" r="1.40" fill="rgb(255,255,255)" opacity="0.89"/><circle cx="76.58" cy="47.93" r="1.30" fill="rgb(255,255,255)" opacity="0.57"/><circle cx="78.21" cy="46.24" r="1.52" fill="rgb(255,255,255)" opacity="0.88"/><circle cx="79.60" cy="48.16" r="1.64" fill="rgb(255,255,255)" opacity="0.46"/><circle cx="81.54" cy="50.20" r="1.37" fill="rgb(228,228,228)" opacity="0.63"/><circle cx="82.95" cy="49.40" r="1.56" fill="rgb(243,243,243)" opacity="0.53"/><circle cx="84.46" cy="49.26" r="1.32" fill="rgb(218,218,218)" opacity="0.84"/><circle cx="84.63" cy="52.16" r="1.76" fill="rgb(178,178,178)" opacity="0.63"/><circle cx="85.71" cy="50.60" r="0.90" fill="rgb(190,190,190)" opacity="0.85"/><circle cx="86.49" cy="51.14" r="0.90" fill="rgb(225,225,225)" opacity="0.68"/><circle cx="88.02" cy="53.13" r="1.89" fill="rgb(182,182,182)" opacity="0.75"/><circle cx="91.33" cy="54.96" r="1.23" fill="rgb(195,195,195)" opacity="0.88"/><circle cx="90.04" cy="55.25" r="1.23" fill="rgb(199,199,199)" opacity="0.65"/><circle cx="92.94" cy="55.54" r="1.21" fill="rgb(202,202,202)" opacity="0.60"/><line x1="9.8" y1="11.5" x2="12" y2="8" stroke="#555" stroke-width="1.4"/><circle cx="9.8" cy="11.5" r="2.8" fill="#999"/><circle cx="9.8" cy="11.5" r="1.6" fill="#ddd"/><line x1="61.1" y1="33.3" x2="62" y2="38" stroke="#555" stroke-width="1.4"/><circle cx="61.1" cy="33.3" r="2.8" fill="#999"/><circle cx="61.1" cy="33.3" r="1.6" fill="#ddd"/><line x1="51.2" y1="49.9" x2="54" y2="45" stroke="#555" stroke-width="1.4"/><circle cx="51.2" cy="49.9" r="2.8" fill="#999"/><circle cx="51.2" cy="49.9" r="1.6" fill="#ddd"/><line x1="67.2" y1="56.3" x2="66" y2="52" stroke="#555" stroke-width="1.4"/><circle cx="67.2" cy="56.3" r="2.8" fill="#999"/><circle cx="67.2" cy="56.3" r="1.6" fill="#ddd"/></g></svg><circle cx="250.4" cy="265" r="2.2" fill="#f00"/><line x1="187.3" y1="295.5" x2="205.7" y2="295.5" stroke="#e8e8e8" stroke-width="1.1"/><text transform="translate(231.3,234) scale(1,1.06)" font-size="8.5" fill="#222" text-anchor="middle" color="#222">3 min</text>
<text transform="translate(189.5,300.8) scale(1,1.06)" font-size="6.2" fill="#ddd" color="#ddd">2 μm</text>
<rect x="342.60" y="23.00" width="14.12" height="125.10" fill="#fdf3e3"/><rect x="359.02" y="23.00" width="14.37" height="125.10" fill="#fdf3e3"/><rect x="375.69" y="23.00" width="14.37" height="125.10" fill="#fdf3e3"/><rect x="392.36" y="23.00" width="14.37" height="125.10" fill="#fdf3e3"/><rect x="409.03" y="23.00" width="14.37" height="125.10" fill="#fdf3e3"/><rect x="425.70" y="23.00" width="14.37" height="125.10" fill="#fdf3e3"/><rect x="442.37" y="23.00" width="14.37" height="125.10" fill="#fdf3e3"/><rect x="459.04" y="23.00" width="14.37" height="125.10" fill="#fdf3e3"/><rect x="475.71" y="23.00" width="14.49" height="125.10" fill="#fdf3e3"/><line x1="341.2" y1="84.7" x2="491.185" y2="84.7" stroke="#888" stroke-width="0.9" stroke-dasharray="3.3,2"/><path d="M341.20,85.00 C342.67,84.72 346.87,83.77 350.00,83.30 C353.13,82.83 355.80,82.68 360.00,82.20 C364.20,81.72 370.93,80.85 375.20,80.40 C379.47,79.95 382.50,79.83 385.60,79.50 C388.70,79.17 391.35,79.25 393.80,78.40 C396.25,77.55 398.43,75.53 400.30,74.40 C402.17,73.27 403.75,72.22 405.00,71.60 C406.25,70.98 406.68,70.75 407.80,70.70 C408.92,70.65 410.23,70.92 411.70,71.30 C413.17,71.68 415.10,73.03 416.60,73.00 C418.10,72.97 419.30,71.88 420.70,71.10 C422.10,70.32 421.78,68.77 425.00,68.30 C428.22,67.83 432.50,68.43 440.00,68.30 C447.50,68.17 461.50,67.73 470.00,67.50 C478.50,67.27 487.50,67.00 491.00,66.90" fill="none" stroke="#000" stroke-width="1.7"/><path d="M341.20,85.00 C341.50,85.55 342.37,87.30 343.00,88.30 C343.63,89.30 344.25,90.23 345.00,91.00 C345.75,91.77 346.50,92.38 347.50,92.90 C348.50,93.42 349.75,93.77 351.00,94.10 C352.25,94.43 353.17,94.60 355.00,94.90 C356.83,95.20 359.50,95.60 362.00,95.90 C364.50,96.20 367.00,96.47 370.00,96.70 C373.00,96.93 377.00,97.10 380.00,97.30 C383.00,97.50 385.22,97.33 388.00,97.90 C390.78,98.47 394.17,99.82 396.70,100.70 C399.23,101.58 400.98,102.68 403.20,103.20 C405.42,103.72 407.57,103.73 410.00,103.80 C412.43,103.87 413.72,103.85 417.80,103.60 C421.88,103.35 428.30,102.40 434.50,102.30 C440.70,102.20 445.58,102.78 455.00,103.00 C464.42,103.22 485.00,103.50 491.00,103.60" fill="none" stroke="#f00" stroke-width="1.7"/><path d="M341.20,85.00 C342.30,84.57 345.00,83.12 347.80,82.40 C350.60,81.68 354.20,81.30 358.00,80.70 C361.80,80.10 367.60,79.30 370.60,78.80 C373.60,78.30 373.60,77.42 376.00,77.70 C378.40,77.98 382.67,79.67 385.00,80.50 C387.33,81.33 387.50,82.38 390.00,82.70 C392.50,83.02 396.67,82.68 400.00,82.40 C403.33,82.12 405.83,81.42 410.00,81.00 C414.17,80.58 420.00,80.00 425.00,79.90 C430.00,79.80 434.88,80.25 440.00,80.40 C445.12,80.55 447.20,80.90 455.70,80.80 C464.20,80.70 485.12,79.97 491.00,79.80" fill="none" stroke="#00f" stroke-width="1.7"/><path d="M341.20,84.49 C342.67,84.13 346.87,82.96 350.00,82.33 C353.13,81.69 355.80,81.47 360.00,80.70 C364.20,79.93 370.93,78.47 375.20,77.68 C379.47,76.90 382.50,76.49 385.60,75.98 C388.70,75.48 391.35,75.59 393.80,74.68 C396.25,73.77 398.43,71.70 400.30,70.52 C402.17,69.34 403.75,68.28 405.00,67.60 C406.25,66.92 406.68,66.61 407.80,66.47 C408.92,66.32 410.23,66.48 411.70,66.74 C413.17,67.00 415.10,67.95 416.60,68.03 C418.10,68.12 419.30,67.63 420.70,67.26 C422.10,66.88 421.78,66.04 425.00,65.80 C428.22,65.56 432.50,65.93 440.00,65.80 C447.50,65.67 461.50,65.23 470.00,65.00 C478.50,64.77 487.50,64.50 491.00,64.40 L491.00,69.40 C487.50,69.50 478.50,69.77 470.00,70.00 C461.50,70.23 447.50,70.67 440.00,70.80 C432.50,70.93 428.22,70.11 425.00,70.80 C421.78,71.49 422.10,73.75 420.70,74.94 C419.30,76.14 418.10,77.81 416.60,77.97 C415.10,78.12 413.17,76.36 411.70,75.86 C410.23,75.35 408.92,74.98 407.80,74.93 C406.68,74.89 406.25,75.04 405.00,75.60 C403.75,76.16 402.17,77.20 400.30,78.28 C398.43,79.37 396.25,81.33 393.80,82.12 C391.35,82.91 388.70,82.85 385.60,83.02 C382.50,83.18 379.47,83.00 375.20,83.12 C370.93,83.23 364.20,83.51 360.00,83.70 C355.80,83.89 353.13,83.97 350.00,84.27 C346.87,84.58 342.67,85.30 341.20,85.51 Z" fill="#000" opacity="0.22"/><path d="M341.20,84.42 C341.50,84.85 342.37,86.25 343.00,87.00 C343.63,87.75 344.25,88.34 345.00,88.90 C345.75,89.46 346.50,89.93 347.50,90.35 C348.50,90.77 349.75,91.13 351.00,91.42 C352.25,91.71 353.17,91.83 355.00,92.08 C356.83,92.33 359.50,92.63 362.00,92.90 C364.50,93.17 367.00,93.47 370.00,93.70 C373.00,93.93 377.00,94.15 380.00,94.30 C383.00,94.45 385.22,94.23 388.00,94.60 C390.78,94.97 394.17,95.90 396.70,96.53 C399.23,97.16 400.98,98.01 403.20,98.38 C405.42,98.75 407.57,98.75 410.00,98.77 C412.43,98.80 413.72,98.80 417.80,98.53 C421.88,98.25 428.30,97.26 434.50,97.13 C440.70,96.99 445.58,97.55 455.00,97.71 C464.42,97.87 485.00,98.03 491.00,98.10 L491.00,109.10 C485.00,109.00 464.42,108.72 455.00,108.50 C445.58,108.28 440.70,107.70 434.50,107.80 C428.30,107.90 421.88,108.85 417.80,109.10 C413.72,109.35 412.43,109.40 410.00,109.30 C407.57,109.20 405.42,109.17 403.20,108.52 C400.98,107.86 399.23,106.51 396.70,105.37 C394.17,104.23 390.78,102.46 388.00,101.70 C385.22,100.94 383.00,101.05 380.00,100.80 C377.00,100.55 373.00,100.43 370.00,100.20 C367.00,99.97 364.50,99.73 362.00,99.40 C359.50,99.07 356.83,98.58 355.00,98.22 C353.17,97.87 352.25,97.66 351.00,97.28 C349.75,96.90 348.50,96.58 347.50,95.95 C346.50,95.32 345.75,94.53 345.00,93.50 C344.25,92.47 343.63,91.12 343.00,89.80 C342.37,88.48 341.50,86.30 341.20,85.60 Z" fill="#f00" opacity="0.25"/><path d="M341.20,84.46 C342.30,83.78 345.00,81.53 347.80,80.39 C350.60,79.25 354.20,78.54 358.00,77.60 C361.80,76.66 367.60,75.47 370.60,74.77 C373.60,74.07 373.60,73.24 376.00,73.40 C378.40,73.56 382.67,75.03 385.00,75.75 C387.33,76.47 387.50,77.51 390.00,77.70 C392.50,77.89 396.67,77.27 400.00,76.90 C403.33,76.53 405.83,75.90 410.00,75.47 C414.17,75.04 420.00,74.43 425.00,74.32 C430.00,74.20 434.88,74.64 440.00,74.77 C445.12,74.90 447.20,75.24 455.70,75.12 C464.20,74.99 485.12,74.19 491.00,74.00 L491.00,85.80 C485.12,85.93 464.20,86.55 455.70,86.61 C447.20,86.66 445.12,86.30 440.00,86.12 C434.88,85.94 430.00,85.46 425.00,85.54 C420.00,85.61 414.17,86.16 410.00,86.55 C405.83,86.95 403.33,87.71 400.00,87.90 C396.67,88.09 392.50,88.14 390.00,87.70 C387.50,87.26 387.33,86.20 385.00,85.25 C382.67,84.30 378.40,82.40 376.00,82.00 C373.60,81.60 373.60,82.53 370.60,82.83 C367.60,83.13 361.80,83.54 358.00,83.80 C354.20,84.06 350.60,84.12 347.80,84.41 C345.00,84.70 342.30,85.36 341.20,85.54 Z" fill="#00f" opacity="0.25"/><path d="M343.4,21.2 H341.2 V148.1 H491.19" fill="none" stroke="#000" stroke-width="1.3"/><line x1="341.2" y1="116.38" x2="343.0" y2="116.38" stroke="#000" stroke-width="1"/><line x1="341.2" y1="84.65" x2="343.0" y2="84.65" stroke="#000" stroke-width="1"/><line x1="341.2" y1="52.92" x2="343.0" y2="52.92" stroke="#000" stroke-width="1"/><line x1="374.53" y1="148.1" x2="374.53" y2="146.29999999999998" stroke="#000" stroke-width="1"/><line x1="407.86" y1="148.1" x2="407.86" y2="146.29999999999998" stroke="#000" stroke-width="1"/><line x1="441.19" y1="148.1" x2="441.19" y2="146.29999999999998" stroke="#000" stroke-width="1"/><line x1="474.52" y1="148.1" x2="474.52" y2="146.29999999999998" stroke="#000" stroke-width="1"/><text transform="translate(336.4,151.10) scale(1,1.06)" font-size="8.6" fill="#222" text-anchor="end" color="#222">0</text><text transform="translate(336.4,119.38) scale(1,1.06)" font-size="8.6" fill="#222" text-anchor="end" color="#222">50</text><text transform="translate(336.4,87.65) scale(1,1.06)" font-size="8.6" fill="#222" text-anchor="end" color="#222">100</text><text transform="translate(336.4,55.92) scale(1,1.06)" font-size="8.6" fill="#222" text-anchor="end" color="#222">150</text><text transform="translate(336.4,24.20) scale(1,1.06)" font-size="8.6" fill="#222" text-anchor="end" color="#222">200</text><text transform="translate(341.20,159.60) scale(1,1.06)" font-size="8.6" fill="#222" text-anchor="middle" color="#222">0</text><text transform="translate(374.53,159.60) scale(1,1.06)" font-size="8.6" fill="#222" text-anchor="middle" color="#222">10</text><text transform="translate(407.86,159.60) scale(1,1.06)" font-size="8.6" fill="#222" text-anchor="middle" color="#222">20</text><text transform="translate(441.19,159.60) scale(1,1.06)" font-size="8.6" fill="#222" text-anchor="middle" color="#222">30</text><text transform="translate(474.52,159.60) scale(1,1.06)" font-size="8.6" fill="#222" text-anchor="middle" color="#222">40</text><text transform="translate(416.3,173.10) scale(1,1.06)" font-size="8.6" fill="#222" text-anchor="middle" color="#222">Time (min)</text><text transform="translate(357.2,13.9) scale(1,1.06)" font-size="8.8" fill="#222" color="#222">Positive spike timing (+13 ms)</text><text transform="translate(349.66,29.70) scale(1,1.06)" font-size="7" fill="#33f" text-anchor="middle" color="#33f">n.s.</text><text transform="translate(349.66,36.10) scale(1,1.06)" font-size="7" fill="#f00" text-anchor="middle" color="#f00">n.s.</text><text transform="translate(349.66,42.30) scale(1,1.06)" font-size="7" fill="#222" text-anchor="middle" color="#222">n.s.</text><text transform="translate(366.21,29.70) scale(1,1.06)" font-size="7" fill="#33f" text-anchor="middle" color="#33f">n.s.</text><polygon points="361.86,31.85 362.37,32.89 363.52,33.06 362.69,33.87 362.88,35.02 361.86,34.48 360.83,35.02 361.02,33.87 360.19,33.06 361.34,32.89" fill="#f00"/><polygon points="366.21,31.85 366.72,32.89 367.87,33.06 367.04,33.87 367.23,35.02 366.21,34.48 365.18,35.02 365.37,33.87 364.54,33.06 365.69,32.89" fill="#f00"/><polygon points="370.56,31.85 371.07,32.89 372.22,33.06 371.39,33.87 371.58,35.02 370.56,34.48 369.53,35.02 369.72,33.87 368.89,33.06 370.04,32.89" fill="#f00"/><text transform="translate(366.21,42.30) scale(1,1.06)" font-size="7" fill="#222" text-anchor="middle" color="#222">n.s.</text><text transform="translate(382.88,29.70) scale(1,1.06)" font-size="7" fill="#33f" text-anchor="middle" color="#33f">n.s.</text><polygon points="378.52,31.85 379.04,32.89 380.19,33.06 379.36,33.87 379.55,35.02 378.52,34.48 377.50,35.02 377.69,33.87 376.86,33.06 378.01,32.89" fill="#f00"/><polygon points="382.88,31.85 383.39,32.89 384.54,33.06 383.71,33.87 383.90,35.02 382.88,34.48 381.85,35.02 382.04,33.87 381.21,33.06 382.36,32.89" fill="#f00"/><polygon points="387.23,31.85 387.74,32.89 388.89,33.06 388.06,33.87 388.25,35.02 387.23,34.48 386.20,35.02 386.39,33.87 385.56,33.06 386.71,32.89" fill="#f00"/><text transform="translate(382.88,42.30) scale(1,1.06)" font-size="7" fill="#222" text-anchor="middle" color="#222">n.s.</text><text transform="translate(399.54,29.70) scale(1,1.06)" font-size="7" fill="#33f" text-anchor="middle" color="#33f">n.s.</text><polygon points="395.19,31.85 395.71,32.89 396.86,33.06 396.03,33.87 396.22,35.02 395.19,34.48 394.17,35.02 394.36,33.87 393.53,33.06 394.68,32.89" fill="#f00"/><polygon points="399.54,31.85 400.06,32.89 401.21,33.06 400.38,33.87 400.57,35.02 399.54,34.48 398.52,35.02 398.71,33.87 397.88,33.06 399.03,32.89" fill="#f00"/><polygon points="403.89,31.85 404.41,32.89 405.56,33.06 404.73,33.87 404.92,35.02 403.89,34.48 402.87,35.02 403.06,33.87 402.23,33.06 403.38,32.89" fill="#f00"/><polygon points="399.54,38.05 400.06,39.09 401.21,39.26 400.38,40.07 400.57,41.22 399.54,40.68 398.52,41.22 398.71,40.07 397.88,39.26 399.03,39.09" fill="#222"/><text transform="translate(416.22,29.70) scale(1,1.06)" font-size="7" fill="#33f" text-anchor="middle" color="#33f">n.s.</text><polygon points="411.87,31.85 412.38,32.89 413.53,33.06 412.70,33.87 412.89,35.02 411.87,34.48 410.84,35.02 411.03,33.87 410.20,33.06 411.35,32.89" fill="#f00"/><polygon points="416.22,31.85 416.73,32.89 417.88,33.06 417.05,33.87 417.24,35.02 416.22,34.48 415.19,35.02 415.38,33.87 414.55,33.06 415.70,32.89" fill="#f00"/><polygon points="420.57,31.85 421.08,32.89 422.23,33.06 421.40,33.87 421.59,35.02 420.57,34.48 419.54,35.02 419.73,33.87 418.90,33.06 420.05,32.89" fill="#f00"/><polygon points="411.87,38.05 412.38,39.09 413.53,39.26 412.70,40.07 412.89,41.22 411.87,40.68 410.84,41.22 411.03,40.07 410.20,39.26 411.35,39.09" fill="#222"/><polygon points="416.22,38.05 416.73,39.09 417.88,39.26 417.05,40.07 417.24,41.22 416.22,40.68 415.19,41.22 415.38,40.07 414.55,39.26 415.70,39.09" fill="#222"/><polygon points="420.57,38.05 421.08,39.09 422.23,39.26 421.40,40.07 421.59,41.22 420.57,40.68 419.54,41.22 419.73,40.07 418.90,39.26 420.05,39.09" fill="#222"/><text transform="translate(432.88,29.70) scale(1,1.06)" font-size="7" fill="#33f" text-anchor="middle" color="#33f">n.s.</text><polygon points="428.53,31.85 429.05,32.89 430.20,33.06 429.37,33.87 429.56,35.02 428.53,34.48 427.51,35.02 427.70,33.87 426.87,33.06 428.02,32.89" fill="#f00"/><polygon points="432.88,31.85 433.40,32.89 434.55,33.06 433.72,33.87 433.91,35.02 432.88,34.48 431.86,35.02 432.05,33.87 431.22,33.06 432.37,32.89" fill="#f00"/><polygon points="437.24,31.85 437.75,32.89 438.90,33.06 438.07,33.87 438.26,35.02 437.24,34.48 436.21,35.02 436.40,33.87 435.57,33.06 436.72,32.89" fill="#f00"/><polygon points="428.53,38.05 429.05,39.09 430.20,39.26 429.37,40.07 429.56,41.22 428.53,40.68 427.51,41.22 427.70,40.07 426.87,39.26 428.02,39.09" fill="#222"/><polygon points="432.88,38.05 433.40,39.09 434.55,39.26 433.72,40.07 433.91,41.22 432.88,40.68 431.86,41.22 432.05,40.07 431.22,39.26 432.37,39.09" fill="#222"/><polygon points="437.24,38.05 437.75,39.09 438.90,39.26 438.07,40.07 438.26,41.22 437.24,40.68 436.21,41.22 436.40,40.07 435.57,39.26 436.72,39.09" fill="#222"/><text transform="translate(449.56,29.70) scale(1,1.06)" font-size="7" fill="#33f" text-anchor="middle" color="#33f">n.s.</text><polygon points="445.21,31.85 445.72,32.89 446.87,33.06 446.04,33.87 446.23,35.02 445.21,34.48 444.18,35.02 444.37,33.87 443.54,33.06 444.69,32.89" fill="#f00"/><polygon points="449.56,31.85 450.07,32.89 451.22,33.06 450.39,33.87 450.58,35.02 449.56,34.48 448.53,35.02 448.72,33.87 447.89,33.06 449.04,32.89" fill="#f00"/><polygon points="453.91,31.85 454.42,32.89 455.57,33.06 454.74,33.87 454.93,35.02 453.91,34.48 452.88,35.02 453.07,33.87 452.24,33.06 453.39,32.89" fill="#f00"/><polygon points="445.21,38.05 445.72,39.09 446.87,39.26 446.04,40.07 446.23,41.22 445.21,40.68 444.18,41.22 444.37,40.07 443.54,39.26 444.69,39.09" fill="#222"/><polygon points="449.56,38.05 450.07,39.09 451.22,39.26 450.39,40.07 450.58,41.22 449.56,40.68 448.53,41.22 448.72,40.07 447.89,39.26 449.04,39.09" fill="#222"/><polygon points="453.91,38.05 454.42,39.09 455.57,39.26 454.74,40.07 454.93,41.22 453.91,40.68 452.88,41.22 453.07,40.07 452.24,39.26 453.39,39.09" fill="#222"/><text transform="translate(466.23,29.70) scale(1,1.06)" font-size="7" fill="#33f" text-anchor="middle" color="#33f">n.s.</text><polygon points="461.88,31.85 462.39,32.89 463.54,33.06 462.71,33.87 462.90,35.02 461.88,34.48 460.85,35.02 461.04,33.87 460.21,33.06 461.36,32.89" fill="#f00"/><polygon points="466.23,31.85 466.74,32.89 467.89,33.06 467.06,33.87 467.25,35.02 466.23,34.48 465.20,35.02 465.39,33.87 464.56,33.06 465.71,32.89" fill="#f00"/><polygon points="470.58,31.85 471.09,32.89 472.24,33.06 471.41,33.87 471.60,35.02 470.58,34.48 469.55,35.02 469.74,33.87 468.91,33.06 470.06,32.89" fill="#f00"/><polygon points="461.88,38.05 462.39,39.09 463.54,39.26 462.71,40.07 462.90,41.22 461.88,40.68 460.85,41.22 461.04,40.07 460.21,39.26 461.36,39.09" fill="#222"/><polygon points="466.23,38.05 466.74,39.09 467.89,39.26 467.06,40.07 467.25,41.22 466.23,40.68 465.20,41.22 465.39,40.07 464.56,39.26 465.71,39.09" fill="#222"/><polygon points="470.58,38.05 471.09,39.09 472.24,39.26 471.41,40.07 471.60,41.22 470.58,40.68 469.55,41.22 469.74,40.07 468.91,39.26 470.06,39.09" fill="#222"/><text transform="translate(482.95,29.70) scale(1,1.06)" font-size="7" fill="#33f" text-anchor="middle" color="#33f">n.s.</text><polygon points="478.60,31.85 479.12,32.89 480.27,33.06 479.44,33.87 479.63,35.02 478.60,34.48 477.58,35.02 477.77,33.87 476.94,33.06 478.09,32.89" fill="#f00"/><polygon points="482.95,31.85 483.47,32.89 484.62,33.06 483.79,33.87 483.98,35.02 482.95,34.48 481.93,35.02 482.12,33.87 481.29,33.06 482.44,32.89" fill="#f00"/><polygon points="487.31,31.85 487.82,32.89 488.97,33.06 488.14,33.87 488.33,35.02 487.31,34.48 486.28,35.02 486.47,33.87 485.64,33.06 486.79,32.89" fill="#f00"/><polygon points="478.60,38.05 479.12,39.09 480.27,39.26 479.44,40.07 479.63,41.22 478.60,40.68 477.58,41.22 477.77,40.07 476.94,39.26 478.09,39.09" fill="#222"/><polygon points="482.95,38.05 483.47,39.09 484.62,39.26 483.79,40.07 483.98,41.22 482.95,40.68 481.93,41.22 482.12,40.07 481.29,39.26 482.44,39.09" fill="#222"/><polygon points="487.31,38.05 487.82,39.09 488.97,39.26 488.14,40.07 488.33,41.22 487.31,40.68 486.28,41.22 486.47,40.07 485.64,39.26 486.79,39.09" fill="#222"/><text transform="translate(302.6,84.55) rotate(-90)" font-size="8.95" text-anchor="middle" fill="#222" color="#222">uEPSP, <tspan fill="#f00" color="#f00" stroke="#f00">neck length</tspan>, and</text><text transform="translate(313.3,84.75) rotate(-90)" font-size="8.95" text-anchor="middle" fill="#222" color="#222"><tspan fill="#00f" color="#00f" stroke="#00f">head volume</tspan> change %</text>
<rect x="342.60" y="215.60" width="18.25" height="124.50" fill="#fdf3e3"/><rect x="363.15" y="215.60" width="16.85" height="124.50" fill="#fdf3e3"/><rect x="382.30" y="215.60" width="16.85" height="124.50" fill="#fdf3e3"/><rect x="401.45" y="215.60" width="16.85" height="124.50" fill="#fdf3e3"/><rect x="420.60" y="215.60" width="16.85" height="124.50" fill="#fdf3e3"/><rect x="439.75" y="215.60" width="16.85" height="124.50" fill="#fdf3e3"/><rect x="458.90" y="215.60" width="16.85" height="124.50" fill="#fdf3e3"/><rect x="478.05" y="215.60" width="12.75" height="124.50" fill="#fdf3e3"/><line x1="341.2" y1="277.4" x2="491.35" y2="277.4" stroke="#888" stroke-width="0.9" stroke-dasharray="3.3,2"/><path d="M341.30,277.50 C342.75,277.57 346.88,277.90 350.00,277.90 C353.12,277.90 355.40,277.53 360.00,277.50 C364.60,277.47 372.67,277.35 377.60,277.70 C382.53,278.05 384.20,278.88 389.60,279.60 C395.00,280.32 403.27,281.73 410.00,282.00 C416.73,282.27 425.00,281.78 430.00,281.20 C435.00,280.62 437.67,279.33 440.00,278.50 C442.33,277.67 442.50,277.22 444.00,276.20 C445.50,275.18 447.50,272.73 449.00,272.40 C450.50,272.07 451.67,273.63 453.00,274.20 C454.33,274.77 455.67,275.58 457.00,275.80 C458.33,276.02 459.50,276.30 461.00,275.50 C462.50,274.70 464.17,271.87 466.00,271.00 C467.83,270.13 467.83,270.45 472.00,270.30 C476.17,270.15 487.83,270.13 491.00,270.10" fill="none" stroke="#000" stroke-width="1.7"/><path d="M341.30,277.50 C342.75,277.92 346.88,279.25 350.00,280.00 C353.12,280.75 355.00,281.37 360.00,282.00 C365.00,282.63 374.17,283.63 380.00,283.80 C385.83,283.97 388.67,283.20 395.00,283.00 C401.33,282.80 410.50,282.52 418.00,282.60 C425.50,282.68 432.17,283.02 440.00,283.50 C447.83,283.98 456.50,285.15 465.00,285.50 C473.50,285.85 486.67,285.58 491.00,285.60" fill="none" stroke="#f00" stroke-width="1.7"/><path d="M341.30,277.50 C342.75,277.62 346.88,277.95 350.00,278.20 C353.12,278.45 355.83,278.78 360.00,279.00 C364.17,279.22 370.83,279.23 375.00,279.50 C379.17,279.77 381.67,280.48 385.00,280.60 C388.33,280.72 389.50,280.40 395.00,280.20 C400.50,280.00 412.17,279.77 418.00,279.40 C423.83,279.03 424.67,278.72 430.00,278.00 C435.33,277.28 443.33,275.67 450.00,275.10 C456.67,274.53 463.17,274.87 470.00,274.60 C476.83,274.33 487.50,273.68 491.00,273.50" fill="none" stroke="#00f" stroke-width="1.7"/><path d="M341.30,276.96 C342.75,276.84 346.88,276.63 350.00,276.22 C353.12,275.81 355.40,274.97 360.00,274.50 C364.60,274.03 372.67,273.12 377.60,273.38 C382.53,273.64 384.20,275.09 389.60,276.06 C395.00,277.03 403.27,278.77 410.00,279.21 C416.73,279.65 425.00,279.79 430.00,278.70 C435.00,277.61 437.67,274.29 440.00,272.68 C442.33,271.08 442.50,270.57 444.00,269.06 C445.50,267.54 447.50,264.06 449.00,263.60 C450.50,263.14 451.67,265.45 453.00,266.32 C454.33,267.19 455.67,268.52 457.00,268.84 C458.33,269.16 459.50,269.41 461.00,268.25 C462.50,267.09 464.17,263.10 466.00,261.88 C467.83,260.65 467.83,261.03 472.00,260.90 C476.17,260.78 487.83,261.07 491.00,261.10 L491.00,277.10 C487.83,277.00 476.17,276.59 472.00,276.51 C467.83,276.43 467.83,276.17 466.00,276.62 C464.17,277.08 462.50,278.85 461.00,279.25 C459.50,279.65 458.33,279.24 457.00,279.00 C455.67,278.76 454.33,278.23 453.00,277.80 C451.67,277.37 450.50,276.07 449.00,276.40 C447.50,276.73 445.50,278.91 444.00,279.81 C442.50,280.70 442.33,281.14 440.00,281.79 C437.67,282.44 435.00,283.30 430.00,283.70 C425.00,284.10 416.73,284.56 410.00,284.21 C403.27,283.86 395.00,282.36 389.60,281.60 C384.20,280.84 382.53,280.07 377.60,279.64 C372.67,279.21 364.60,279.13 360.00,279.00 C355.40,278.87 353.12,279.04 350.00,278.87 C346.88,278.71 342.75,278.16 341.30,278.02 Z" fill="#000" opacity="0.22"/><path d="M341.30,276.96 C342.75,277.19 346.88,277.98 350.00,278.32 C353.12,278.66 355.00,278.67 360.00,279.00 C365.00,279.33 374.17,280.22 380.00,280.30 C385.83,280.38 388.67,279.70 395.00,279.50 C401.33,279.30 410.50,279.02 418.00,279.10 C425.50,279.18 432.17,279.60 440.00,280.00 C447.83,280.40 456.50,281.23 465.00,281.50 C473.50,281.77 486.67,281.58 491.00,281.60 L491.00,290.90 C486.67,290.88 473.50,291.20 465.00,290.80 C456.50,290.40 447.83,289.00 440.00,288.50 C432.17,288.00 425.50,287.80 418.00,287.78 C410.50,287.76 401.33,288.12 395.00,288.38 C388.67,288.63 385.83,289.53 380.00,289.30 C374.17,289.07 365.00,288.11 360.00,287.00 C355.00,285.89 353.12,284.12 350.00,282.63 C346.88,281.14 342.75,278.83 341.30,278.07 Z" fill="#f00" opacity="0.25"/><path d="M341.30,276.96 C342.75,276.89 346.88,276.68 350.00,276.52 C353.12,276.36 355.83,276.07 360.00,276.00 C364.17,275.93 370.83,275.96 375.00,276.12 C379.17,276.29 381.67,276.94 385.00,276.98 C388.33,277.01 389.50,276.71 395.00,276.32 C400.50,275.94 412.17,275.27 418.00,274.68 C423.83,274.09 424.67,273.73 430.00,272.80 C435.33,271.87 443.33,269.91 450.00,269.10 C456.67,268.29 463.17,268.45 470.00,267.97 C476.83,267.48 487.50,266.49 491.00,266.20 L491.00,280.50 C487.50,280.51 476.83,280.64 470.00,280.58 C463.17,280.51 456.67,279.76 450.00,280.10 C443.33,280.44 435.33,281.99 430.00,282.60 C424.67,283.21 423.83,283.51 418.00,283.76 C412.17,284.01 400.50,284.00 395.00,284.07 C389.50,284.15 388.33,284.43 385.00,284.23 C381.67,284.03 379.17,283.25 375.00,282.88 C370.83,282.50 364.17,282.50 360.00,282.00 C355.83,281.50 353.12,280.54 350.00,279.88 C346.88,279.22 342.75,278.35 341.30,278.04 Z" fill="#00f" opacity="0.25"/><path d="M343.4,213.8 H341.2 V340.1 H491.35" fill="none" stroke="#000" stroke-width="1.3"/><line x1="341.2" y1="308.53" x2="343.0" y2="308.53" stroke="#000" stroke-width="1"/><line x1="341.2" y1="276.95" x2="343.0" y2="276.95" stroke="#000" stroke-width="1"/><line x1="341.2" y1="245.38" x2="343.0" y2="245.38" stroke="#000" stroke-width="1"/><line x1="379.70" y1="340.1" x2="379.70" y2="338.3" stroke="#000" stroke-width="1"/><line x1="418.20" y1="340.1" x2="418.20" y2="338.3" stroke="#000" stroke-width="1"/><line x1="456.70" y1="340.1" x2="456.70" y2="338.3" stroke="#000" stroke-width="1"/><text transform="translate(336.4,343.10) scale(1,1.06)" font-size="8.6" fill="#222" text-anchor="end" color="#222">0</text><text transform="translate(336.4,311.53) scale(1,1.06)" font-size="8.6" fill="#222" text-anchor="end" color="#222">50</text><text transform="translate(336.4,279.95) scale(1,1.06)" font-size="8.6" fill="#222" text-anchor="end" color="#222">100</text><text transform="translate(336.4,248.38) scale(1,1.06)" font-size="8.6" fill="#222" text-anchor="end" color="#222">150</text><text transform="translate(336.4,216.80) scale(1,1.06)" font-size="8.6" fill="#222" text-anchor="end" color="#222">200</text><text transform="translate(341.20,351.60) scale(1,1.06)" font-size="8.6" fill="#222" text-anchor="middle" color="#222">0</text><text transform="translate(379.70,351.60) scale(1,1.06)" font-size="8.6" fill="#222" text-anchor="middle" color="#222">10</text><text transform="translate(418.20,351.60) scale(1,1.06)" font-size="8.6" fill="#222" text-anchor="middle" color="#222">20</text><text transform="translate(456.70,351.60) scale(1,1.06)" font-size="8.6" fill="#222" text-anchor="middle" color="#222">30</text><text transform="translate(416.3,365.10) scale(1,1.06)" font-size="8.6" fill="#222" text-anchor="middle" color="#222">Time (min)</text><text transform="translate(360.2,204.3) scale(1,1.06)" font-size="8.8" fill="#222" color="#222">Positive spike timing (+7 ms)</text><text transform="translate(351.73,220.40) scale(1,1.06)" font-size="7" fill="#33f" text-anchor="middle" color="#33f">n.s.</text><text transform="translate(351.73,227.00) scale(1,1.06)" font-size="7" fill="#f00" text-anchor="middle" color="#f00">n.s.</text><text transform="translate(351.73,233.20) scale(1,1.06)" font-size="7" fill="#222" text-anchor="middle" color="#222">n.s.</text><text transform="translate(371.57,220.40) scale(1,1.06)" font-size="7" fill="#33f" text-anchor="middle" color="#33f">n.s.</text><text transform="translate(371.57,227.00) scale(1,1.06)" font-size="7" fill="#f00" text-anchor="middle" color="#f00">n.s.</text><text transform="translate(371.57,233.20) scale(1,1.06)" font-size="7" fill="#222" text-anchor="middle" color="#222">n.s.</text><text transform="translate(390.72,220.40) scale(1,1.06)" font-size="7" fill="#33f" text-anchor="middle" color="#33f">n.s.</text><text transform="translate(390.72,227.00) scale(1,1.06)" font-size="7" fill="#f00" text-anchor="middle" color="#f00">n.s.</text><text transform="translate(390.72,233.20) scale(1,1.06)" font-size="7" fill="#222" text-anchor="middle" color="#222">n.s.</text><text transform="translate(409.88,220.40) scale(1,1.06)" font-size="7" fill="#33f" text-anchor="middle" color="#33f">n.s.</text><text transform="translate(409.88,227.00) scale(1,1.06)" font-size="7" fill="#f00" text-anchor="middle" color="#f00">n.s.</text><text transform="translate(409.88,233.20) scale(1,1.06)" font-size="7" fill="#222" text-anchor="middle" color="#222">n.s.</text><text transform="translate(429.02,220.40) scale(1,1.06)" font-size="7" fill="#33f" text-anchor="middle" color="#33f">n.s.</text><text transform="translate(429.02,227.00) scale(1,1.06)" font-size="7" fill="#f00" text-anchor="middle" color="#f00">n.s.</text><text transform="translate(429.02,233.20) scale(1,1.06)" font-size="7" fill="#222" text-anchor="middle" color="#222">n.s.</text><text transform="translate(448.18,220.40) scale(1,1.06)" font-size="7" fill="#33f" text-anchor="middle" color="#33f">n.s.</text><text transform="translate(448.18,227.00) scale(1,1.06)" font-size="7" fill="#f00" text-anchor="middle" color="#f00">n.s.</text><text transform="translate(448.18,233.20) scale(1,1.06)" font-size="7" fill="#222" text-anchor="middle" color="#222">n.s.</text><text transform="translate(467.32,220.40) scale(1,1.06)" font-size="7" fill="#33f" text-anchor="middle" color="#33f">n.s.</text><text transform="translate(467.32,227.00) scale(1,1.06)" font-size="7" fill="#f00" text-anchor="middle" color="#f00">n.s.</text><text transform="translate(467.32,233.20) scale(1,1.06)" font-size="7" fill="#222" text-anchor="middle" color="#222">n.s.</text><text transform="translate(484.42,220.40) scale(1,1.06)" font-size="7" fill="#33f" text-anchor="middle" color="#33f">n.s.</text><text transform="translate(484.42,227.00) scale(1,1.06)" font-size="7" fill="#f00" text-anchor="middle" color="#f00">n.s.</text><text transform="translate(484.42,233.20) scale(1,1.06)" font-size="7" fill="#222" text-anchor="middle" color="#222">n.s.</text><text transform="translate(302.6,276.85) rotate(-90)" font-size="8.95" text-anchor="middle" fill="#222" color="#222">uEPSP, <tspan fill="#f00" color="#f00" stroke="#f00">neck length</tspan>, and</text><text transform="translate(313.3,277.05) rotate(-90)" font-size="8.95" text-anchor="middle" fill="#222" color="#222"><tspan fill="#00f" color="#00f" stroke="#00f">head volume</tspan> change %</text>
<text transform="translate(552.2,13.9) scale(1,1.06)" font-size="8.8" fill="#222" color="#222">Positive spike timing (+13 ms)</text><rect x="557.3" y="70.3" width="33.00" height="78.00" fill="#808080" stroke="#222" stroke-width="1"/><rect x="594.1" y="101.8" width="33.00" height="46.50" fill="#ff8080" stroke="#f22" stroke-width="1"/><rect x="631.3" y="77.3" width="32.60" height="71.00" fill="#8080ff" stroke="#22f" stroke-width="1"/><line x1="537" y1="83.6" x2="685" y2="83.6" stroke="#111" stroke-width="1.05" stroke-dasharray="3,2.3" stroke-dashoffset="-2"/><path d="M567.4,65.1 H579.8000000000001 M573.6,65.1 V74.4 M567.4,74.4 H579.8000000000001" stroke="#000" stroke-width="1.1" fill="none"/><circle cx="573.6" cy="53.2" r="1.62" fill="#000"/><circle cx="572" cy="59.2" r="1.62" fill="#000"/><circle cx="575.3" cy="59.9" r="1.62" fill="#000"/><circle cx="573.6" cy="61.4" r="1.62" fill="#000"/><circle cx="573.6" cy="67.1" r="1.62" fill="#000"/><circle cx="573.6" cy="68.9" r="1.62" fill="#000"/><circle cx="573.6" cy="83" r="1.62" fill="#000"/><circle cx="573.6" cy="85.3" r="1.62" fill="#000"/><circle cx="573.6" cy="91.3" r="1.62" fill="#000"/><path d="M604.3,96.1 H616.7 M610.5,96.1 V107.2 M604.3,107.2 H616.7" stroke="#f00" stroke-width="1.1" fill="none"/><circle cx="610.5" cy="79.3" r="1.62" fill="#f00"/><circle cx="610.5" cy="85.8" r="1.62" fill="#f00"/><circle cx="610.5" cy="87.1" r="1.62" fill="#f00"/><circle cx="610.5" cy="98.1" r="1.62" fill="#f00"/><circle cx="608.7" cy="103.4" r="1.62" fill="#f00"/><circle cx="612" cy="101.8" r="1.62" fill="#f00"/><circle cx="610.5" cy="114.9" r="1.62" fill="#f00"/><circle cx="610.5" cy="119.8" r="1.62" fill="#f00"/><circle cx="610.5" cy="125.5" r="1.62" fill="#f00"/><path d="M642.5,71.9 H652.3 M647.4,71.9 V82.6 M642.5,82.6 H652.3" stroke="#00f" stroke-width="1.1" fill="none"/><circle cx="647.4" cy="52.3" r="1.62" fill="#00f"/><circle cx="647.4" cy="56.8" r="1.62" fill="#00f"/><circle cx="647.4" cy="74.4" r="1.62" fill="#00f"/><circle cx="647.4" cy="76" r="1.62" fill="#00f"/><circle cx="647.4" cy="83.4" r="1.62" fill="#00f"/><circle cx="647.4" cy="86.6" r="1.62" fill="#00f"/><circle cx="647.4" cy="89.9" r="1.62" fill="#00f"/><circle cx="647.4" cy="99.4" r="1.62" fill="#00f"/><path d="M539,19.2 H536.6 V148.3 H684.4 V146.3" fill="none" stroke="#111" stroke-width="1"/><line x1="536.6" y1="116.03" x2="538.4" y2="116.03" stroke="#111" stroke-width="1"/><line x1="536.6" y1="83.75" x2="538.4" y2="83.75" stroke="#111" stroke-width="1"/><line x1="536.6" y1="51.47" x2="538.4" y2="51.47" stroke="#111" stroke-width="1"/><line x1="573.6" y1="148.3" x2="573.6" y2="146.70000000000002" stroke="#111" stroke-width="0.9"/><line x1="610.5" y1="148.3" x2="610.5" y2="146.70000000000002" stroke="#111" stroke-width="0.9"/><line x1="647.4" y1="148.3" x2="647.4" y2="146.70000000000002" stroke="#111" stroke-width="0.9"/><text transform="translate(531.8,151.30) scale(1,1.06)" font-size="8.6" fill="#222" text-anchor="end" color="#222">0</text><text transform="translate(531.8,119.03) scale(1,1.06)" font-size="8.6" fill="#222" text-anchor="end" color="#222">50</text><text transform="translate(531.8,86.75) scale(1,1.06)" font-size="8.6" fill="#222" text-anchor="end" color="#222">100</text><text transform="translate(531.8,54.47) scale(1,1.06)" font-size="8.6" fill="#222" text-anchor="end" color="#222">150</text><text transform="translate(531.8,22.20) scale(1,1.06)" font-size="8.6" fill="#222" text-anchor="end" color="#222">200</text><polygon points="573.60,30.90 574.25,32.21 575.69,32.42 574.65,33.44 574.89,34.88 573.60,34.20 572.31,34.88 572.55,33.44 571.51,32.42 572.95,32.21" fill="#222"/><polygon points="610.30,30.90 610.95,32.21 612.39,32.42 611.35,33.44 611.59,34.88 610.30,34.20 609.01,34.88 609.25,33.44 608.21,32.42 609.65,32.21" fill="#222"/><text transform="translate(573.6,159.9) scale(1,1.06)" font-size="8.6" fill="#222" text-anchor="middle" color="#222">uEPSP</text><text transform="translate(610.5,159.9) scale(1,1.06)" font-size="8.6" fill="#222" text-anchor="middle" color="#222">Neck</text><text transform="translate(610.5,170.3) scale(1,1.06)" font-size="8.6" fill="#222" text-anchor="middle" color="#222">length</text><text transform="translate(647.4,159.9) scale(1,1.06)" font-size="8.6" fill="#222" text-anchor="middle" color="#222">Head</text><text transform="translate(647.4,170.3) scale(1,1.06)" font-size="8.6" fill="#222" text-anchor="middle" color="#222">volume</text>
<text transform="translate(554.2,204.3) scale(1,1.06)" font-size="8.8" fill="#222" color="#222">Positive spike timing (+7 ms)</text><rect x="559" y="283.3" width="27.70" height="57.50" fill="#808080" stroke="#222" stroke-width="1"/><rect x="597.6" y="282" width="28.10" height="58.80" fill="#ff8080" stroke="#f22" stroke-width="1"/><rect x="633.5" y="279.6" width="28.00" height="61.20" fill="#8080ff" stroke="#22f" stroke-width="1"/><line x1="537" y1="277" x2="685" y2="277" stroke="#444" stroke-width="1.3" stroke-dasharray="2.6,2.7" stroke-dashoffset="0"/><path d="M567.9,279.9 H577.6999999999999 M572.8,279.9 V286.4 M567.9,286.4 H577.6999999999999" stroke="#000" stroke-width="1.1" fill="none"/><circle cx="572.8" cy="265.1" r="1.62" fill="#000"/><circle cx="571.3" cy="279.5" r="1.62" fill="#000"/><circle cx="574.3" cy="279.5" r="1.62" fill="#000"/><circle cx="572.8" cy="285.6" r="1.62" fill="#000"/><circle cx="572.8" cy="288.5" r="1.62" fill="#000"/><circle cx="572.8" cy="295.5" r="1.62" fill="#000"/><path d="M606.4,277.1 H616.4 M611.4,277.1 V286.4 M606.4,286.4 H616.4" stroke="#f00" stroke-width="1.1" fill="none"/><circle cx="611.4" cy="263.9" r="1.62" fill="#f00"/><circle cx="611.4" cy="272.3" r="1.62" fill="#f00"/><circle cx="611.4" cy="276.3" r="1.62" fill="#f00"/><circle cx="611.4" cy="285" r="1.62" fill="#f00"/><circle cx="611.4" cy="290.5" r="1.62" fill="#f00"/><circle cx="611.4" cy="293.5" r="1.62" fill="#f00"/><circle cx="611.4" cy="302.4" r="1.62" fill="#f00"/><path d="M642.5,275.4 H652.5 M647.5,275.4 V284.4 M642.5,284.4 H652.5" stroke="#00f" stroke-width="1.1" fill="none"/><circle cx="647.5" cy="257.8" r="1.62" fill="#00f"/><circle cx="647.5" cy="271.6" r="1.62" fill="#00f"/><circle cx="647.5" cy="274" r="1.62" fill="#00f"/><circle cx="647.5" cy="276.3" r="1.62" fill="#00f"/><circle cx="647.5" cy="278" r="1.62" fill="#00f"/><circle cx="647.5" cy="290" r="1.62" fill="#00f"/><circle cx="647.5" cy="291.5" r="1.62" fill="#00f"/><circle cx="647.5" cy="299.1" r="1.62" fill="#00f"/><path d="M539,212.8 H536.6 V340.8 H684.4 V338.8" fill="none" stroke="#111" stroke-width="1"/><line x1="536.6" y1="308.80" x2="538.4" y2="308.80" stroke="#111" stroke-width="1"/><line x1="536.6" y1="276.80" x2="538.4" y2="276.80" stroke="#111" stroke-width="1"/><line x1="536.6" y1="244.80" x2="538.4" y2="244.80" stroke="#111" stroke-width="1"/><line x1="572.8" y1="340.8" x2="572.8" y2="339.2" stroke="#111" stroke-width="0.9"/><line x1="611.4" y1="340.8" x2="611.4" y2="339.2" stroke="#111" stroke-width="0.9"/><line x1="647.5" y1="340.8" x2="647.5" y2="339.2" stroke="#111" stroke-width="0.9"/><text transform="translate(531.8,343.80) scale(1,1.06)" font-size="8.6" fill="#222" text-anchor="end" color="#222">0</text><text transform="translate(531.8,311.80) scale(1,1.06)" font-size="8.6" fill="#222" text-anchor="end" color="#222">50</text><text transform="translate(531.8,279.80) scale(1,1.06)" font-size="8.6" fill="#222" text-anchor="end" color="#222">100</text><text transform="translate(531.8,247.80) scale(1,1.06)" font-size="8.6" fill="#222" text-anchor="end" color="#222">150</text><text transform="translate(531.8,215.80) scale(1,1.06)" font-size="8.6" fill="#222" text-anchor="end" color="#222">200</text><text transform="translate(572.8,352.40000000000003) scale(1,1.06)" font-size="8.6" fill="#222" text-anchor="middle" color="#222">uEPSP</text><text transform="translate(610.0,352.40000000000003) scale(1,1.06)" font-size="8.6" fill="#222" text-anchor="middle" color="#222">Neck</text><text transform="translate(610.0,362.8) scale(1,1.06)" font-size="8.6" fill="#222" text-anchor="middle" color="#222">length</text><text transform="translate(647.5,352.40000000000003) scale(1,1.06)" font-size="8.6" fill="#222" text-anchor="middle" color="#222">Head</text><text transform="translate(647.5,362.8) scale(1,1.06)" font-size="8.6" fill="#222" text-anchor="middle" color="#222">volume</text>
</svg></body></html>
